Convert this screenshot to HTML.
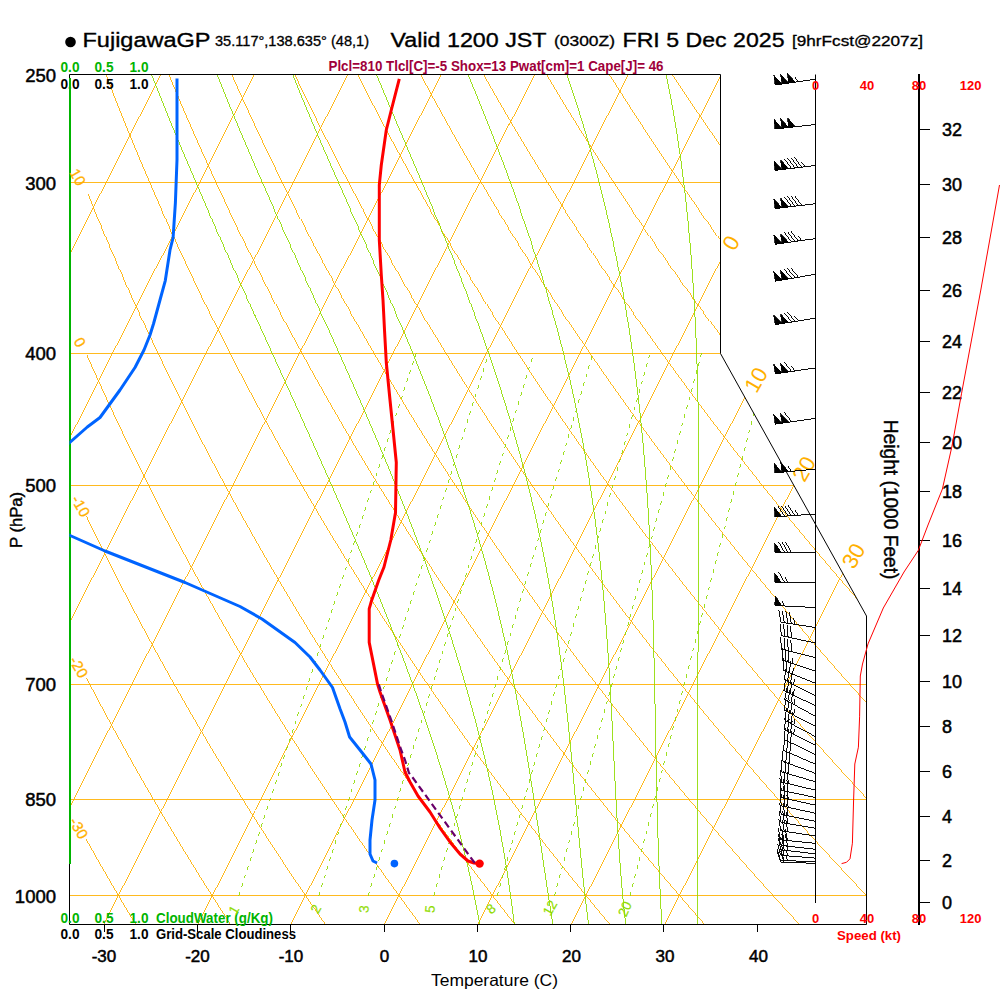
<!DOCTYPE html><html><head><meta charset="utf-8"><style>html,body{margin:0;padding:0;background:#fff;}svg{display:block;}</style></head><body><svg width="1000" height="1000" viewBox="0 0 1000 1000" font-family='"Liberation Sans", sans-serif'><defs><clipPath id="pc"><path d="M69.5 74.5 L720.5 74.5 L720.5 353.5 L866.5 616.0 L866.5 924.5 L69.5 924.5 Z"/></clipPath></defs>
<g clip-path="url(#pc)" fill="none" stroke-width="0.88" shape-rendering="crispEdges">
<line x1="69.5" y1="182.50" x2="866.5" y2="182.50" stroke="#ffb000"/>
<line x1="69.5" y1="353.50" x2="866.5" y2="353.50" stroke="#ffb000"/>
<line x1="69.5" y1="485.50" x2="866.5" y2="485.50" stroke="#ffb000"/>
<line x1="69.5" y1="684.50" x2="866.5" y2="684.50" stroke="#ffb000"/>
<line x1="69.5" y1="799.50" x2="866.5" y2="799.50" stroke="#ffb000"/>
<line x1="69.5" y1="895.50" x2="866.5" y2="895.50" stroke="#ffb000"/>
<line x1="-644.25" y1="924.50" x2="-213.73" y2="74.50" stroke="#ffb000"/>
<line x1="-550.75" y1="924.50" x2="-120.23" y2="74.50" stroke="#ffb000"/>
<line x1="-457.25" y1="924.50" x2="-26.73" y2="74.50" stroke="#ffb000"/>
<line x1="-363.75" y1="924.50" x2="66.77" y2="74.50" stroke="#ffb000"/>
<line x1="-270.25" y1="924.50" x2="160.27" y2="74.50" stroke="#ffb000"/>
<line x1="-176.75" y1="924.50" x2="253.77" y2="74.50" stroke="#ffb000"/>
<line x1="-83.25" y1="924.50" x2="347.27" y2="74.50" stroke="#ffb000"/>
<line x1="10.25" y1="924.50" x2="440.77" y2="74.50" stroke="#ffb000"/>
<line x1="103.75" y1="924.50" x2="534.27" y2="74.50" stroke="#ffb000"/>
<line x1="197.25" y1="924.50" x2="627.77" y2="74.50" stroke="#ffb000"/>
<line x1="290.75" y1="924.50" x2="721.27" y2="74.50" stroke="#ffb000"/>
<line x1="384.25" y1="924.50" x2="814.77" y2="74.50" stroke="#ffb000"/>
<line x1="477.75" y1="924.50" x2="908.27" y2="74.50" stroke="#ffb000"/>
<line x1="571.25" y1="924.50" x2="1001.77" y2="74.50" stroke="#ffb000"/>
<line x1="664.75" y1="924.50" x2="1095.27" y2="74.50" stroke="#ffb000"/>
<path d="M-397.64 74.54 L-396.44 83.04 L-395.21 91.53 L-393.96 100.03 L-392.69 108.53 L-391.40 117.03 L-390.08 125.53 L-388.74 134.03 L-387.38 142.53 L-385.99 151.02 L-384.58 159.52 L-383.14 168.02 L-381.69 176.52 L-380.21 185.02 L-378.70 193.52 L-377.17 202.02 L-375.62 210.51 L-374.04 219.01 L-372.44 227.51 L-370.82 236.01 L-369.17 244.51 L-367.50 253.01 L-365.80 261.51 L-364.08 270.00 L-362.33 278.50 L-360.56 287.00 L-358.76 295.50 L-356.94 304.00 L-355.09 312.50 L-353.21 321.00 L-351.32 329.49 L-349.39 337.99 L-347.44 346.49 L-345.47 354.99 L-343.47 363.49 L-341.44 371.99 L-339.39 380.49 L-337.31 388.98 L-335.21 397.48 L-333.07 405.98 L-330.92 414.48 L-328.73 422.98 L-326.52 431.48 L-324.28 439.98 L-322.02 448.47 L-319.73 456.97 L-317.41 465.47 L-315.06 473.97 L-312.69 482.47 L-310.29 490.97 L-307.86 499.47 L-305.41 507.96 L-302.92 516.46 L-300.41 524.96 L-297.87 533.46 L-295.31 541.96 L-292.71 550.46 L-290.09 558.96 L-287.43 567.45 L-284.75 575.95 L-282.04 584.45 L-279.31 592.95 L-276.54 601.45 L-273.74 609.95 L-270.92 618.44 L-268.06 626.94 L-265.18 635.44 L-262.27 643.94 L-259.32 652.44 L-256.35 660.94 L-253.35 669.44 L-250.31 677.93 L-247.25 686.43 L-244.16 694.93 L-241.03 703.43 L-237.88 711.93 L-234.69 720.43 L-231.48 728.93 L-228.23 737.42 L-224.96 745.92 L-221.65 754.42 L-218.31 762.92 L-214.94 771.42 L-211.53 779.92 L-208.10 788.42 L-204.63 796.91 L-201.14 805.41 L-197.61 813.91 L-194.04 822.41 L-190.45 830.91 L-186.82 839.41 L-183.16 847.91 L-179.47 856.40 L-175.75 864.90 L-171.99 873.40 L-168.20 881.90 L-164.37 890.40 L-160.52 898.90 L-156.62 907.40 L-152.70 915.89 L-148.74 924.39" stroke="#ffb000"/>
<path d="M-334.70 74.54 L-333.24 83.04 L-331.75 91.53 L-330.24 100.03 L-328.71 108.53 L-327.15 117.03 L-325.57 125.53 L-323.97 134.03 L-322.34 142.53 L-320.69 151.02 L-319.01 159.52 L-317.30 168.02 L-315.58 176.52 L-313.82 185.02 L-312.05 193.52 L-310.24 202.02 L-308.42 210.51 L-306.56 219.01 L-304.69 227.51 L-302.78 236.01 L-300.86 244.51 L-298.90 253.01 L-296.92 261.51 L-294.92 270.00 L-292.88 278.50 L-290.83 287.00 L-288.74 295.50 L-286.63 304.00 L-284.50 312.50 L-282.33 321.00 L-280.15 329.49 L-277.93 337.99 L-275.69 346.49 L-273.42 354.99 L-271.12 363.49 L-268.80 371.99 L-266.45 380.49 L-264.07 388.98 L-261.66 397.48 L-259.23 405.98 L-256.77 414.48 L-254.28 422.98 L-251.76 431.48 L-249.22 439.98 L-246.65 448.47 L-244.05 456.97 L-241.42 465.47 L-238.76 473.97 L-236.07 482.47 L-233.36 490.97 L-230.61 499.47 L-227.84 507.96 L-225.04 516.46 L-222.21 524.96 L-219.35 533.46 L-216.46 541.96 L-213.54 550.46 L-210.59 558.96 L-207.61 567.45 L-204.60 575.95 L-201.56 584.45 L-198.50 592.95 L-195.40 601.45 L-192.27 609.95 L-189.11 618.44 L-185.92 626.94 L-182.70 635.44 L-179.44 643.94 L-176.16 652.44 L-172.85 660.94 L-169.50 669.44 L-166.12 677.93 L-162.72 686.43 L-159.27 694.93 L-155.80 703.43 L-152.30 711.93 L-148.76 720.43 L-145.19 728.93 L-141.59 737.42 L-137.96 745.92 L-134.30 754.42 L-130.60 762.92 L-126.87 771.42 L-123.10 779.92 L-119.30 788.42 L-115.47 796.91 L-111.61 805.41 L-107.71 813.91 L-103.78 822.41 L-99.82 830.91 L-95.82 839.41 L-91.78 847.91 L-87.72 856.40 L-83.62 864.90 L-79.48 873.40 L-75.31 881.90 L-71.10 890.40 L-66.86 898.90 L-62.59 907.40 L-58.28 915.89 L-53.93 924.39" stroke="#ffb000"/>
<path d="M-271.76 74.54 L-270.04 83.04 L-268.30 91.53 L-266.53 100.03 L-264.73 108.53 L-262.91 117.03 L-261.07 125.53 L-259.20 134.03 L-257.30 142.53 L-255.38 151.02 L-253.43 159.52 L-251.46 168.02 L-249.46 176.52 L-247.44 185.02 L-245.39 193.52 L-243.32 202.02 L-241.21 210.51 L-239.09 219.01 L-236.93 227.51 L-234.75 236.01 L-232.54 244.51 L-230.31 253.01 L-228.05 261.51 L-225.76 270.00 L-223.44 278.50 L-221.10 287.00 L-218.73 295.50 L-216.33 304.00 L-213.91 312.50 L-211.45 321.00 L-208.97 329.49 L-206.47 337.99 L-203.93 346.49 L-201.37 354.99 L-198.77 363.49 L-196.15 371.99 L-193.50 380.49 L-190.83 388.98 L-188.12 397.48 L-185.38 405.98 L-182.62 414.48 L-179.83 422.98 L-177.01 431.48 L-174.15 439.98 L-171.27 448.47 L-168.36 456.97 L-165.42 465.47 L-162.45 473.97 L-159.45 482.47 L-156.42 490.97 L-153.36 499.47 L-150.27 507.96 L-147.15 516.46 L-144.00 524.96 L-140.82 533.46 L-137.61 541.96 L-134.37 550.46 L-131.09 558.96 L-127.79 567.45 L-124.45 575.95 L-121.09 584.45 L-117.69 592.95 L-114.26 601.45 L-110.79 609.95 L-107.30 618.44 L-103.77 626.94 L-100.21 635.44 L-96.62 643.94 L-93.00 652.44 L-89.34 660.94 L-85.66 669.44 L-81.93 677.93 L-78.18 686.43 L-74.39 694.93 L-70.57 703.43 L-66.72 711.93 L-62.83 720.43 L-58.91 728.93 L-54.95 737.42 L-50.97 745.92 L-46.94 754.42 L-42.89 762.92 L-38.80 771.42 L-34.67 779.92 L-30.51 788.42 L-26.31 796.91 L-22.08 805.41 L-17.82 813.91 L-13.52 822.41 L-9.18 830.91 L-4.81 839.41 L-0.41 847.91 L4.04 856.40 L8.52 864.90 L13.03 873.40 L17.58 881.90 L22.17 890.40 L26.79 898.90 L31.45 907.40 L36.15 915.89 L40.88 924.39" stroke="#ffb000"/>
<path d="M86.19 839.41 L90.97 847.91 L95.79 856.40 L100.65 864.90 L105.54 873.40 L110.47 881.90 L115.44 890.40 L120.44 898.90 L125.49 907.40 L130.57 915.89 L135.69 924.39" stroke="#ffb000"/>
<path d="M86.45 677.93 L90.89 686.43 L95.37 694.93 L99.89 703.43 L104.44 711.93 L109.03 720.43 L113.66 728.93 L118.32 737.42 L123.02 745.92 L127.76 754.42 L132.54 762.92 L137.35 771.42 L142.20 779.92 L147.08 788.42 L152.01 796.91 L156.97 805.41 L161.97 813.91 L167.01 822.41 L172.08 830.91 L177.20 839.41 L182.35 847.91 L187.55 856.40 L192.78 864.90 L198.05 873.40 L203.36 881.90 L208.71 890.40 L214.10 898.90 L219.53 907.40 L225.00 915.89 L230.50 924.39" stroke="#ffb000"/>
<path d="M86.50 516.46 L90.61 524.96 L94.75 533.46 L98.93 541.96 L103.15 550.46 L107.40 558.96 L111.68 567.45 L116.00 575.95 L120.35 584.45 L124.74 592.95 L129.17 601.45 L133.63 609.95 L138.13 618.44 L142.66 626.94 L147.23 635.44 L151.84 643.94 L156.48 652.44 L161.16 660.94 L165.88 669.44 L170.64 677.93 L175.43 686.43 L180.26 694.93 L185.12 703.43 L190.02 711.93 L194.97 720.43 L199.95 728.93 L204.96 737.42 L210.02 745.92 L215.11 754.42 L220.25 762.92 L225.42 771.42 L230.63 779.92 L235.88 788.42 L241.17 796.91 L246.49 805.41 L251.86 813.91 L257.27 822.41 L262.72 830.91 L268.20 839.41 L273.73 847.91 L279.30 856.40 L284.91 864.90 L290.56 873.40 L296.25 881.90 L301.98 890.40 L307.75 898.90 L313.56 907.40 L319.42 915.89 L325.32 924.39" stroke="#ffb000"/>
<path d="M86.84 354.99 L90.62 363.49 L94.42 371.99 L98.27 380.49 L102.14 388.98 L106.05 397.48 L109.99 405.98 L113.97 414.48 L117.98 422.98 L122.03 431.48 L126.11 439.98 L130.22 448.47 L134.37 456.97 L138.55 465.47 L142.77 473.97 L147.02 482.47 L151.31 490.97 L155.63 499.47 L159.99 507.96 L164.38 516.46 L168.81 524.96 L173.28 533.46 L177.78 541.96 L182.32 550.46 L186.89 558.96 L191.50 567.45 L196.15 575.95 L200.83 584.45 L205.55 592.95 L210.31 601.45 L215.11 609.95 L219.94 618.44 L224.81 626.94 L229.72 635.44 L234.66 643.94 L239.65 652.44 L244.67 660.94 L249.73 669.44 L254.83 677.93 L259.96 686.43 L265.14 694.93 L270.35 703.43 L275.61 711.93 L280.90 720.43 L286.23 728.93 L291.60 737.42 L297.01 745.92 L302.47 754.42 L307.96 762.92 L313.49 771.42 L319.06 779.92 L324.67 788.42 L330.33 796.91 L336.02 805.41 L341.76 813.91 L347.53 822.41 L353.35 830.91 L359.21 839.41 L365.11 847.91 L371.05 856.40 L377.04 864.90 L383.07 873.40 L389.14 881.90 L395.25 890.40 L401.40 898.90 L407.60 907.40 L413.84 915.89 L420.13 924.39" stroke="#ffb000"/>
<path d="M87.89 193.52 L91.33 202.02 L94.81 210.51 L98.31 219.01 L101.85 227.51 L105.43 236.01 L109.03 244.51 L112.67 253.01 L116.34 261.51 L120.04 270.00 L123.77 278.50 L127.54 287.00 L131.34 295.50 L135.18 304.00 L139.05 312.50 L142.95 321.00 L146.88 329.49 L150.85 337.99 L154.85 346.49 L158.89 354.99 L162.96 363.49 L167.07 371.99 L171.21 380.49 L175.38 388.98 L179.59 397.48 L183.84 405.98 L188.12 414.48 L192.43 422.98 L196.78 431.48 L201.17 439.98 L205.59 448.47 L210.05 456.97 L214.54 465.47 L219.07 473.97 L223.64 482.47 L228.24 490.97 L232.88 499.47 L237.56 507.96 L242.27 516.46 L247.02 524.96 L251.80 533.46 L256.63 541.96 L261.49 550.46 L266.39 558.96 L271.33 567.45 L276.30 575.95 L281.31 584.45 L286.36 592.95 L291.45 601.45 L296.58 609.95 L301.75 618.44 L306.95 626.94 L312.20 635.44 L317.48 643.94 L322.81 652.44 L328.17 660.94 L333.57 669.44 L339.01 677.93 L344.50 686.43 L350.02 694.93 L355.58 703.43 L361.19 711.93 L366.83 720.43 L372.52 728.93 L378.24 737.42 L384.01 745.92 L389.82 754.42 L395.67 762.92 L401.56 771.42 L407.49 779.92 L413.47 788.42 L419.49 796.91 L425.55 805.41 L431.65 813.91 L437.80 822.41 L443.98 830.91 L450.22 839.41 L456.49 847.91 L462.81 856.40 L469.17 864.90 L475.58 873.40 L482.03 881.90 L488.52 890.40 L495.06 898.90 L501.64 907.40 L508.27 915.89 L514.94 924.39" stroke="#ffb000"/>
<path d="M105.88 74.54 L109.15 83.04 L112.45 91.53 L115.78 100.03 L119.14 108.53 L122.54 117.03 L125.97 125.53 L129.43 134.03 L132.92 142.53 L136.44 151.02 L140.00 159.52 L143.58 168.02 L147.20 176.52 L150.86 185.02 L154.54 193.52 L158.26 202.02 L162.01 210.51 L165.79 219.01 L169.61 227.51 L173.46 236.01 L177.34 244.51 L181.26 253.01 L185.21 261.51 L189.20 270.00 L193.22 278.50 L197.27 287.00 L201.36 295.50 L205.48 304.00 L209.64 312.50 L213.83 321.00 L218.05 329.49 L222.31 337.99 L226.61 346.49 L230.94 354.99 L235.31 363.49 L239.71 371.99 L244.15 380.49 L248.63 388.98 L253.14 397.48 L257.68 405.98 L262.27 414.48 L266.89 422.98 L271.54 431.48 L276.24 439.98 L280.97 448.47 L285.73 456.97 L290.54 465.47 L295.38 473.97 L300.26 482.47 L305.17 490.97 L310.13 499.47 L315.12 507.96 L320.15 516.46 L325.22 524.96 L330.33 533.46 L335.48 541.96 L340.66 550.46 L345.89 558.96 L351.15 567.45 L356.45 575.95 L361.79 584.45 L367.17 592.95 L372.60 601.45 L378.06 609.95 L383.56 618.44 L389.10 626.94 L394.68 635.44 L400.30 643.94 L405.97 652.44 L411.67 660.94 L417.42 669.44 L423.20 677.93 L429.03 686.43 L434.90 694.93 L440.81 703.43 L446.77 711.93 L452.76 720.43 L458.80 728.93 L464.88 737.42 L471.00 745.92 L477.17 754.42 L483.38 762.92 L489.63 771.42 L495.93 779.92 L502.26 788.42 L508.65 796.91 L515.07 805.41 L521.54 813.91 L528.06 822.41 L534.62 830.91 L541.22 839.41 L547.87 847.91 L554.56 856.40 L561.30 864.90 L568.08 873.40 L574.91 881.90 L581.79 890.40 L588.71 898.90 L595.68 907.40 L602.69 915.89 L609.75 924.39" stroke="#ffb000"/>
<path d="M168.82 74.54 L172.34 83.04 L175.91 91.53 L179.50 100.03 L183.12 108.53 L186.78 117.03 L190.47 125.53 L194.20 134.03 L197.95 142.53 L201.74 151.02 L205.57 159.52 L209.42 168.02 L213.31 176.52 L217.24 185.02 L221.20 193.52 L225.19 202.02 L229.21 210.51 L233.27 219.01 L237.37 227.51 L241.49 236.01 L245.66 244.51 L249.86 253.01 L254.09 261.51 L258.36 270.00 L262.66 278.50 L267.00 287.00 L271.37 295.50 L275.78 304.00 L280.23 312.50 L284.71 321.00 L289.22 329.49 L293.78 337.99 L298.37 346.49 L302.99 354.99 L307.66 363.49 L312.36 371.99 L317.09 380.49 L321.87 388.98 L326.68 397.48 L331.53 405.98 L336.41 414.48 L341.34 422.98 L346.30 431.48 L351.30 439.98 L356.34 448.47 L361.41 456.97 L366.53 465.47 L371.68 473.97 L376.88 482.47 L382.11 490.97 L387.38 499.47 L392.69 507.96 L398.04 516.46 L403.43 524.96 L408.85 533.46 L414.32 541.96 L419.83 550.46 L425.38 558.96 L430.97 567.45 L436.60 575.95 L442.27 584.45 L447.98 592.95 L453.74 601.45 L459.53 609.95 L465.37 618.44 L471.25 626.94 L477.16 635.44 L483.13 643.94 L489.13 652.44 L495.18 660.94 L501.26 669.44 L507.39 677.93 L513.57 686.43 L519.78 694.93 L526.04 703.43 L532.35 711.93 L538.70 720.43 L545.09 728.93 L551.52 737.42 L558.00 745.92 L564.52 754.42 L571.09 762.92 L577.70 771.42 L584.36 779.92 L591.06 788.42 L597.81 796.91 L604.60 805.41 L611.44 813.91 L618.32 822.41 L625.25 830.91 L632.23 839.41 L639.25 847.91 L646.32 856.40 L653.43 864.90 L660.59 873.40 L667.80 881.90 L675.06 890.40 L682.36 898.90 L689.72 907.40 L697.11 915.89 L704.56 924.39" stroke="#ffb000"/>
<path d="M231.75 74.54 L235.54 83.04 L239.36 91.53 L243.22 100.03 L247.10 108.53 L251.03 117.03 L254.98 125.53 L258.97 134.03 L262.99 142.53 L267.05 151.02 L271.14 159.52 L275.27 168.02 L279.43 176.52 L283.62 185.02 L287.85 193.52 L292.12 202.02 L296.42 210.51 L300.75 219.01 L305.12 227.51 L309.53 236.01 L313.97 244.51 L318.45 253.01 L322.96 261.51 L327.52 270.00 L332.10 278.50 L336.73 287.00 L341.39 295.50 L346.08 304.00 L350.82 312.50 L355.59 321.00 L360.40 329.49 L365.24 337.99 L370.13 346.49 L375.05 354.99 L380.01 363.49 L385.00 371.99 L390.04 380.49 L395.11 388.98 L400.22 397.48 L405.37 405.98 L410.56 414.48 L415.79 422.98 L421.06 431.48 L426.36 439.98 L431.71 448.47 L437.10 456.97 L442.52 465.47 L447.99 473.97 L453.49 482.47 L459.04 490.97 L464.63 499.47 L470.25 507.96 L475.92 516.46 L481.63 524.96 L487.38 533.46 L493.17 541.96 L499.00 550.46 L504.88 558.96 L510.79 567.45 L516.75 575.95 L522.75 584.45 L528.79 592.95 L534.88 601.45 L541.01 609.95 L547.18 618.44 L553.39 626.94 L559.65 635.44 L565.95 643.94 L572.29 652.44 L578.68 660.94 L585.11 669.44 L591.58 677.93 L598.10 686.43 L604.67 694.93 L611.28 703.43 L617.93 711.93 L624.63 720.43 L631.37 728.93 L638.16 737.42 L644.99 745.92 L651.87 754.42 L658.80 762.92 L665.77 771.42 L672.79 779.92 L679.86 788.42 L686.97 796.91 L694.13 805.41 L701.33 813.91 L708.58 822.41 L715.88 830.91 L723.23 839.41 L730.63 847.91 L738.07 856.40 L745.56 864.90 L753.10 873.40 L760.69 881.90 L768.33 890.40 L776.02 898.90 L783.75 907.40 L791.54 915.89 L799.37 924.39" stroke="#ffb000"/>
<path d="M294.69 74.54 L298.74 83.04 L302.82 91.53 L306.93 100.03 L311.08 108.53 L315.27 117.03 L319.49 125.53 L323.74 134.03 L328.03 142.53 L332.35 151.02 L336.71 159.52 L341.11 168.02 L345.54 176.52 L350.00 185.02 L354.51 193.52 L359.05 202.02 L363.62 210.51 L368.23 219.01 L372.88 227.51 L377.56 236.01 L382.29 244.51 L387.05 253.01 L391.84 261.51 L396.67 270.00 L401.55 278.50 L406.45 287.00 L411.40 295.50 L416.38 304.00 L421.41 312.50 L426.47 321.00 L431.57 329.49 L436.71 337.99 L441.88 346.49 L447.10 354.99 L452.35 363.49 L457.65 371.99 L462.98 380.49 L468.35 388.98 L473.76 397.48 L479.22 405.98 L484.71 414.48 L490.24 422.98 L495.82 431.48 L501.43 439.98 L507.08 448.47 L512.78 456.97 L518.52 465.47 L524.29 473.97 L530.11 482.47 L535.97 490.97 L541.88 499.47 L547.82 507.96 L553.81 516.46 L559.83 524.96 L565.91 533.46 L572.02 541.96 L578.18 550.46 L584.37 558.96 L590.62 567.45 L596.90 575.95 L603.23 584.45 L609.60 592.95 L616.02 601.45 L622.48 609.95 L628.99 618.44 L635.54 626.94 L642.13 635.44 L648.77 643.94 L655.45 652.44 L662.18 660.94 L668.95 669.44 L675.77 677.93 L682.64 686.43 L689.55 694.93 L696.51 703.43 L703.51 711.93 L710.56 720.43 L717.66 728.93 L724.80 737.42 L731.99 745.92 L739.23 754.42 L746.51 762.92 L753.84 771.42 L761.22 779.92 L768.65 788.42 L776.13 796.91 L783.65 805.41 L791.22 813.91 L798.85 822.41 L806.52 830.91 L814.24 839.41 L822.01 847.91 L829.83 856.40 L837.69 864.90 L845.61 873.40 L853.58 881.90 L861.60 890.40 L869.67 898.90 L877.79 907.40 L885.96 915.89 L894.19 924.39" stroke="#ffb000"/>
<path d="M357.63 74.54 L361.94 83.04 L366.28 91.53 L370.65 100.03 L375.06 108.53 L379.51 117.03 L383.99 125.53 L388.51 134.03 L393.06 142.53 L397.66 151.02 L402.28 159.52 L406.95 168.02 L411.65 176.52 L416.39 185.02 L421.16 193.52 L425.97 202.02 L430.82 210.51 L435.71 219.01 L440.64 227.51 L445.60 236.01 L450.60 244.51 L455.64 253.01 L460.72 261.51 L465.83 270.00 L470.99 278.50 L476.18 287.00 L481.41 295.50 L486.69 304.00 L492.00 312.50 L497.35 321.00 L502.74 329.49 L508.17 337.99 L513.64 346.49 L519.15 354.99 L524.70 363.49 L530.29 371.99 L535.92 380.49 L541.59 388.98 L547.31 397.48 L553.06 405.98 L558.86 414.48 L564.70 422.98 L570.57 431.48 L576.49 439.98 L582.46 448.47 L588.46 456.97 L594.51 465.47 L600.60 473.97 L606.73 482.47 L612.91 490.97 L619.12 499.47 L625.39 507.96 L631.69 516.46 L638.04 524.96 L644.43 533.46 L650.87 541.96 L657.35 550.46 L663.87 558.96 L670.44 567.45 L677.05 575.95 L683.71 584.45 L690.41 592.95 L697.16 601.45 L703.96 609.95 L710.80 618.44 L717.68 626.94 L724.61 635.44 L731.59 643.94 L738.61 652.44 L745.68 660.94 L752.80 669.44 L759.96 677.93 L767.17 686.43 L774.43 694.93 L781.74 703.43 L789.09 711.93 L796.49 720.43 L803.94 728.93 L811.44 737.42 L818.98 745.92 L826.58 754.42 L834.22 762.92 L841.91 771.42 L849.66 779.92 L857.45 788.42 L865.29 796.91 L873.18 805.41 L881.12 813.91 L889.11 822.41 L897.15 830.91 L905.24 839.41 L913.39 847.91 L921.58 856.40 L929.82 864.90 L938.12 873.40 L946.47 881.90 L954.87 890.40 L963.32 898.90 L971.83 907.40 L980.39 915.89 L989.00 924.39" stroke="#ffb000"/>
<path d="M420.57 74.54 L425.14 83.04 L429.73 91.53 L434.37 100.03 L439.04 108.53 L443.75 117.03 L448.50 125.53 L453.28 134.03 L458.10 142.53 L462.96 151.02 L467.86 159.52 L472.79 168.02 L477.76 176.52 L482.77 185.02 L487.82 193.52 L492.90 202.02 L498.03 210.51 L503.19 219.01 L508.39 227.51 L513.63 236.01 L518.91 244.51 L524.23 253.01 L529.59 261.51 L534.99 270.00 L540.43 278.50 L545.91 287.00 L551.43 295.50 L556.99 304.00 L562.59 312.50 L568.23 321.00 L573.91 329.49 L579.63 337.99 L585.40 346.49 L591.20 354.99 L597.05 363.49 L602.93 371.99 L608.86 380.49 L614.84 388.98 L620.85 397.48 L626.91 405.98 L633.01 414.48 L639.15 422.98 L645.33 431.48 L651.56 439.98 L657.83 448.47 L664.14 456.97 L670.50 465.47 L676.90 473.97 L683.35 482.47 L689.84 490.97 L696.37 499.47 L702.95 507.96 L709.57 516.46 L716.24 524.96 L722.96 533.46 L729.71 541.96 L736.52 550.46 L743.37 558.96 L750.26 567.45 L757.20 575.95 L764.19 584.45 L771.22 592.95 L778.30 601.45 L785.43 609.95 L792.61 618.44 L799.83 626.94 L807.10 635.44 L814.41 643.94 L821.77 652.44 L829.19 660.94 L836.65 669.44 L844.15 677.93 L851.71 686.43 L859.31 694.93 L866.97 703.43 L874.67 711.93 L882.42 720.43 L890.23 728.93 L898.08 737.42 L905.98 745.92 L913.93 754.42 L921.93 762.92 L929.98 771.42 L938.09 779.92 L946.24 788.42 L954.45 796.91 L962.70 805.41 L971.01 813.91 L979.37 822.41 L987.78 830.91 L996.25 839.41 L1004.76 847.91 L1013.33 856.40 L1021.96 864.90 L1030.63 873.40 L1039.36 881.90 L1048.14 890.40 L1056.98 898.90 L1065.87 907.40 L1074.81 915.89 L1083.81 924.39" stroke="#ffb000"/>
<path d="M483.51 74.54 L488.33 83.04 L493.19 91.53 L498.09 100.03 L503.02 108.53 L507.99 117.03 L513.00 125.53 L518.05 134.03 L523.14 142.53 L528.26 151.02 L533.43 159.52 L538.63 168.02 L543.87 176.52 L549.15 185.02 L554.47 193.52 L559.83 202.02 L565.23 210.51 L570.67 219.01 L576.15 227.51 L581.67 236.01 L587.23 244.51 L592.83 253.01 L598.47 261.51 L604.15 270.00 L609.87 278.50 L615.64 287.00 L621.44 295.50 L627.29 304.00 L633.18 312.50 L639.11 321.00 L645.08 329.49 L651.10 337.99 L657.15 346.49 L663.25 354.99 L669.39 363.49 L675.58 371.99 L681.81 380.49 L688.08 388.98 L694.39 397.48 L700.75 405.98 L707.15 414.48 L713.60 422.98 L720.09 431.48 L726.62 439.98 L733.20 448.47 L739.83 456.97 L746.50 465.47 L753.21 473.97 L759.97 482.47 L766.77 490.97 L773.62 499.47 L780.52 507.96 L787.46 516.46 L794.45 524.96 L801.48 533.46 L808.56 541.96 L815.69 550.46 L822.86 558.96 L830.09 567.45 L837.35 575.95 L844.67 584.45 L852.03 592.95 L859.45 601.45 L866.91 609.95 L874.42 618.44 L881.97 626.94 L889.58 635.44 L897.23 643.94 L904.94 652.44 L912.69 660.94 L920.49 669.44 L928.34 677.93 L936.25 686.43 L944.20 694.93 L952.20 703.43 L960.25 711.93 L968.36 720.43 L976.51 728.93 L984.72 737.42 L992.97 745.92 L1001.28 754.42 L1009.64 762.92 L1018.06 771.42 L1026.52 779.92 L1035.04 788.42 L1043.61 796.91 L1052.23 805.41 L1060.91 813.91 L1069.63 822.41 L1078.42 830.91 L1087.25 839.41 L1096.14 847.91 L1105.09 856.40 L1114.09 864.90 L1123.14 873.40 L1132.25 881.90 L1141.41 890.40 L1150.63 898.90 L1159.90 907.40 L1169.23 915.89 L1178.62 924.39" stroke="#ffb000"/>
<path d="M546.45 74.54 L551.53 83.04 L556.65 91.53 L561.81 100.03 L567.00 108.53 L572.24 117.03 L577.51 125.53 L582.82 134.03 L588.17 142.53 L593.57 151.02 L599.00 159.52 L604.47 168.02 L609.98 176.52 L615.53 185.02 L621.13 193.52 L626.76 202.02 L632.44 210.51 L638.15 219.01 L643.91 227.51 L649.70 236.01 L655.54 244.51 L661.42 253.01 L667.35 261.51 L673.31 270.00 L679.32 278.50 L685.37 287.00 L691.46 295.50 L697.59 304.00 L703.77 312.50 L709.99 321.00 L716.25 329.49 L722.56 337.99 L728.91 346.49 L735.30 354.99 L741.74 363.49 L748.22 371.99 L754.75 380.49 L761.32 388.98 L767.94 397.48 L774.60 405.98 L781.30 414.48 L788.05 422.98 L794.85 431.48 L801.69 439.98 L808.58 448.47 L815.51 456.97 L822.49 465.47 L829.51 473.97 L836.59 482.47 L843.71 490.97 L850.87 499.47 L858.08 507.96 L865.34 516.46 L872.65 524.96 L880.01 533.46 L887.41 541.96 L894.86 550.46 L902.36 558.96 L909.91 567.45 L917.50 575.95 L925.15 584.45 L932.84 592.95 L940.59 601.45 L948.38 609.95 L956.22 618.44 L964.12 626.94 L972.06 635.44 L980.05 643.94 L988.10 652.44 L996.19 660.94 L1004.34 669.44 L1012.53 677.93 L1020.78 686.43 L1029.08 694.93 L1037.43 703.43 L1045.83 711.93 L1054.29 720.43 L1062.80 728.93 L1071.36 737.42 L1079.97 745.92 L1088.63 754.42 L1097.35 762.92 L1106.13 771.42 L1114.95 779.92 L1123.83 788.42 L1132.77 796.91 L1141.76 805.41 L1150.80 813.91 L1159.90 822.41 L1169.05 830.91 L1178.26 839.41 L1187.52 847.91 L1196.84 856.40 L1206.22 864.90 L1215.65 873.40 L1225.14 881.90 L1234.68 890.40 L1244.28 898.90 L1253.94 907.40 L1263.66 915.89 L1273.43 924.39" stroke="#ffb000"/>
<path d="M609.39 74.54 L614.73 83.04 L620.11 91.53 L625.52 100.03 L630.98 108.53 L636.48 117.03 L642.02 125.53 L647.59 134.03 L653.21 142.53 L658.87 151.02 L664.57 159.52 L670.31 168.02 L676.09 176.52 L681.92 185.02 L687.78 193.52 L693.69 202.02 L699.64 210.51 L705.63 219.01 L711.66 227.51 L717.74 236.01 L723.86 244.51 L730.02 253.01 L736.22 261.51 L742.47 270.00 L748.76 278.50 L755.09 287.00 L761.47 295.50 L767.89 304.00 L774.36 312.50 L780.87 321.00 L787.42 329.49 L794.02 337.99 L800.67 346.49 L807.36 354.99 L814.09 363.49 L820.87 371.99 L827.69 380.49 L834.56 388.98 L841.48 397.48 L848.44 405.98 L855.45 414.48 L862.50 422.98 L869.61 431.48 L876.75 439.98 L883.95 448.47 L891.19 456.97 L898.48 465.47 L905.82 473.97 L913.20 482.47 L920.64 490.97 L928.12 499.47 L935.65 507.96 L943.23 516.46 L950.86 524.96 L958.53 533.46 L966.26 541.96 L974.03 550.46 L981.86 558.96 L989.73 567.45 L997.66 575.95 L1005.63 584.45 L1013.65 592.95 L1021.73 601.45 L1029.86 609.95 L1038.03 618.44 L1046.26 626.94 L1054.54 635.44 L1062.87 643.94 L1071.26 652.44 L1079.69 660.94 L1088.18 669.44 L1096.72 677.93 L1105.32 686.43 L1113.96 694.93 L1122.66 703.43 L1131.41 711.93 L1140.22 720.43 L1149.08 728.93 L1158.00 737.42 L1166.96 745.92 L1175.99 754.42 L1185.06 762.92 L1194.20 771.42 L1203.39 779.92 L1212.63 788.42 L1221.93 796.91 L1231.28 805.41 L1240.69 813.91 L1250.16 822.41 L1259.68 830.91 L1269.26 839.41 L1278.90 847.91 L1288.60 856.40 L1298.35 864.90 L1308.16 873.40 L1318.03 881.90 L1327.95 890.40 L1337.94 898.90 L1347.98 907.40 L1358.08 915.89 L1368.24 924.39" stroke="#ffb000"/>
<path d="M672.33 74.54 L677.93 83.04 L683.56 91.53 L689.24 100.03 L694.96 108.53 L700.72 117.03 L706.52 125.53 L712.36 134.03 L718.25 142.53 L724.17 151.02 L730.14 159.52 L736.15 168.02 L742.21 176.52 L748.30 185.02 L754.44 193.52 L760.62 202.02 L766.84 210.51 L773.11 219.01 L779.42 227.51 L785.77 236.01 L792.17 244.51 L798.61 253.01 L805.10 261.51 L811.63 270.00 L818.20 278.50 L824.82 287.00 L831.49 295.50 L838.20 304.00 L844.95 312.50 L851.75 321.00 L858.60 329.49 L865.49 337.99 L872.42 346.49 L879.41 354.99 L886.44 363.49 L893.51 371.99 L900.63 380.49 L907.80 388.98 L915.02 397.48 L922.29 405.98 L929.60 414.48 L936.96 422.98 L944.36 431.48 L951.82 439.98 L959.32 448.47 L966.87 456.97 L974.48 465.47 L982.12 473.97 L989.82 482.47 L997.57 490.97 L1005.37 499.47 L1013.22 507.96 L1021.11 516.46 L1029.06 524.96 L1037.06 533.46 L1045.11 541.96 L1053.20 550.46 L1061.35 558.96 L1069.55 567.45 L1077.81 575.95 L1086.11 584.45 L1094.46 592.95 L1102.87 601.45 L1111.33 609.95 L1119.84 618.44 L1128.41 626.94 L1137.03 635.44 L1145.70 643.94 L1154.42 652.44 L1163.20 660.94 L1172.03 669.44 L1180.91 677.93 L1189.85 686.43 L1198.84 694.93 L1207.89 703.43 L1217.00 711.93 L1226.15 720.43 L1235.37 728.93 L1244.63 737.42 L1253.96 745.92 L1263.34 754.42 L1272.78 762.92 L1282.27 771.42 L1291.82 779.92 L1301.42 788.42 L1311.09 796.91 L1320.81 805.41 L1330.59 813.91 L1340.42 822.41 L1350.32 830.91 L1360.27 839.41 L1370.28 847.91 L1380.35 856.40 L1390.48 864.90 L1400.67 873.40 L1410.92 881.90 L1421.22 890.40 L1431.59 898.90 L1442.02 907.40 L1452.51 915.89 L1463.05 924.39" stroke="#ffb000"/>
<path d="M735.27 74.54 L741.13 83.04 L747.02 91.53 L752.96 100.03 L758.94 108.53 L764.96 117.03 L771.03 125.53 L777.13 134.03 L783.29 142.53 L789.48 151.02 L795.71 159.52 L801.99 168.02 L808.32 176.52 L814.68 185.02 L821.09 193.52 L827.55 202.02 L834.05 210.51 L840.59 219.01 L847.18 227.51 L853.81 236.01 L860.49 244.51 L867.21 253.01 L873.98 261.51 L880.79 270.00 L887.65 278.50 L894.55 287.00 L901.50 295.50 L908.50 304.00 L915.54 312.50 L922.63 321.00 L929.77 329.49 L936.95 337.99 L944.18 346.49 L951.46 354.99 L958.78 363.49 L966.16 371.99 L973.58 380.49 L981.05 388.98 L988.56 397.48 L996.13 405.98 L1003.74 414.48 L1011.41 422.98 L1019.12 431.48 L1026.88 439.98 L1034.70 448.47 L1042.56 456.97 L1050.47 465.47 L1058.43 473.97 L1066.44 482.47 L1074.50 490.97 L1082.62 499.47 L1090.78 507.96 L1099.00 516.46 L1107.26 524.96 L1115.58 533.46 L1123.95 541.96 L1132.38 550.46 L1140.85 558.96 L1149.38 567.45 L1157.96 575.95 L1166.59 584.45 L1175.28 592.95 L1184.01 601.45 L1192.81 609.95 L1201.65 618.44 L1210.55 626.94 L1219.51 635.44 L1228.52 643.94 L1237.58 652.44 L1246.70 660.94 L1255.87 669.44 L1265.10 677.93 L1274.39 686.43 L1283.73 694.93 L1293.12 703.43 L1302.58 711.93 L1312.09 720.43 L1321.65 728.93 L1331.27 737.42 L1340.95 745.92 L1350.69 754.42 L1360.49 762.92 L1370.34 771.42 L1380.25 779.92 L1390.22 788.42 L1400.25 796.91 L1410.33 805.41 L1420.48 813.91 L1430.69 822.41 L1440.95 830.91 L1451.28 839.41 L1461.66 847.91 L1472.10 856.40 L1482.61 864.90 L1493.18 873.40 L1503.80 881.90 L1514.49 890.40 L1525.24 898.90 L1536.06 907.40 L1546.93 915.89 L1557.87 924.39" stroke="#ffb000"/>
<path d="M798.21 74.54 L804.32 83.04 L810.48 91.53 L816.68 100.03 L822.92 108.53 L829.20 117.03 L835.53 125.53 L841.91 134.03 L848.32 142.53 L854.78 151.02 L861.29 159.52 L867.83 168.02 L874.43 176.52 L881.07 185.02 L887.75 193.52 L894.48 202.02 L901.25 210.51 L908.07 219.01 L914.93 227.51 L921.84 236.01 L928.80 244.51 L935.80 253.01 L942.85 261.51 L949.95 270.00 L957.09 278.50 L964.28 287.00 L971.52 295.50 L978.80 304.00 L986.13 312.50 L993.51 321.00 L1000.94 329.49 L1008.41 337.99 L1015.94 346.49 L1023.51 354.99 L1031.13 363.49 L1038.80 371.99 L1046.52 380.49 L1054.29 388.98 L1062.11 397.48 L1069.97 405.98 L1077.89 414.48 L1085.86 422.98 L1093.88 431.48 L1101.95 439.98 L1110.07 448.47 L1118.24 456.97 L1126.46 465.47 L1134.74 473.97 L1143.06 482.47 L1151.44 490.97 L1159.87 499.47 L1168.35 507.96 L1176.88 516.46 L1185.47 524.96 L1194.11 533.46 L1202.80 541.96 L1211.55 550.46 L1220.35 558.96 L1229.20 567.45 L1238.11 575.95 L1247.07 584.45 L1256.09 592.95 L1265.16 601.45 L1274.28 609.95 L1283.46 618.44 L1292.70 626.94 L1301.99 635.44 L1311.34 643.94 L1320.74 652.44 L1330.20 660.94 L1339.72 669.44 L1349.29 677.93 L1358.92 686.43 L1368.61 694.93 L1378.35 703.43 L1388.16 711.93 L1398.02 720.43 L1407.94 728.93 L1417.91 737.42 L1427.95 745.92 L1438.04 754.42 L1448.20 762.92 L1458.41 771.42 L1468.68 779.92 L1479.02 788.42 L1489.41 796.91 L1499.86 805.41 L1510.37 813.91 L1520.95 822.41 L1531.58 830.91 L1542.28 839.41 L1553.04 847.91 L1563.86 856.40 L1574.74 864.90 L1585.69 873.40 L1596.69 881.90 L1607.76 890.40 L1618.90 898.90 L1630.09 907.40 L1641.35 915.89 L1652.68 924.39" stroke="#ffb000"/>
<path d="M861.15 74.54 L867.52 83.04 L873.94 91.53 L880.40 100.03 L886.90 108.53 L893.45 117.03 L900.04 125.53 L906.68 134.03 L913.36 142.53 L920.09 151.02 L926.86 159.52 L933.68 168.02 L940.54 176.52 L947.45 185.02 L954.40 193.52 L961.41 202.02 L968.45 210.51 L975.55 219.01 L982.69 227.51 L989.88 236.01 L997.11 244.51 L1004.40 253.01 L1011.73 261.51 L1019.11 270.00 L1026.53 278.50 L1034.01 287.00 L1041.53 295.50 L1049.10 304.00 L1056.72 312.50 L1064.39 321.00 L1072.11 329.49 L1079.88 337.99 L1087.69 346.49 L1095.56 354.99 L1103.48 363.49 L1111.45 371.99 L1119.46 380.49 L1127.53 388.98 L1135.65 397.48 L1143.82 405.98 L1152.04 414.48 L1160.31 422.98 L1168.64 431.48 L1177.01 439.98 L1185.44 448.47 L1193.92 456.97 L1202.45 465.47 L1211.04 473.97 L1219.68 482.47 L1228.37 490.97 L1237.12 499.47 L1245.91 507.96 L1254.77 516.46 L1263.67 524.96 L1272.63 533.46 L1281.65 541.96 L1290.72 550.46 L1299.84 558.96 L1309.02 567.45 L1318.26 575.95 L1327.55 584.45 L1336.90 592.95 L1346.30 601.45 L1355.76 609.95 L1365.27 618.44 L1374.84 626.94 L1384.47 635.44 L1394.16 643.94 L1403.90 652.44 L1413.70 660.94 L1423.56 669.44 L1433.48 677.93 L1443.46 686.43 L1453.49 694.93 L1463.59 703.43 L1473.74 711.93 L1483.95 720.43 L1494.22 728.93 L1504.55 737.42 L1514.94 745.92 L1525.40 754.42 L1535.91 762.92 L1546.48 771.42 L1557.12 779.92 L1567.81 788.42 L1578.57 796.91 L1589.39 805.41 L1600.27 813.91 L1611.21 822.41 L1622.22 830.91 L1633.29 839.41 L1644.42 847.91 L1655.61 856.40 L1666.87 864.90 L1678.20 873.40 L1689.58 881.90 L1701.03 890.40 L1712.55 898.90 L1724.13 907.40 L1735.78 915.89 L1747.49 924.39" stroke="#ffb000"/>
<path d="M924.09 74.54 L930.72 83.04 L937.39 91.53 L944.11 100.03 L950.88 108.53 L957.69 117.03 L964.55 125.53 L971.45 134.03 L978.40 142.53 L985.39 151.02 L992.43 159.52 L999.52 168.02 L1006.65 176.52 L1013.83 185.02 L1021.06 193.52 L1028.33 202.02 L1035.66 210.51 L1043.03 219.01 L1050.45 227.51 L1057.91 236.01 L1065.43 244.51 L1072.99 253.01 L1080.60 261.51 L1088.27 270.00 L1095.98 278.50 L1103.74 287.00 L1111.54 295.50 L1119.40 304.00 L1127.31 312.50 L1135.27 321.00 L1143.28 329.49 L1151.34 337.99 L1159.45 346.49 L1167.61 354.99 L1175.83 363.49 L1184.09 371.99 L1192.41 380.49 L1200.77 388.98 L1209.19 397.48 L1217.66 405.98 L1226.19 414.48 L1234.77 422.98 L1243.40 431.48 L1252.08 439.98 L1260.81 448.47 L1269.60 456.97 L1278.45 465.47 L1287.35 473.97 L1296.30 482.47 L1305.30 490.97 L1314.36 499.47 L1323.48 507.96 L1332.65 516.46 L1341.88 524.96 L1351.16 533.46 L1360.50 541.96 L1369.89 550.46 L1379.34 558.96 L1388.85 567.45 L1398.41 575.95 L1408.03 584.45 L1417.71 592.95 L1427.44 601.45 L1437.23 609.95 L1447.08 618.44 L1456.99 626.94 L1466.96 635.44 L1476.98 643.94 L1487.06 652.44 L1497.21 660.94 L1507.41 669.44 L1517.67 677.93 L1527.99 686.43 L1538.37 694.93 L1548.82 703.43 L1559.32 711.93 L1569.88 720.43 L1580.51 728.93 L1591.19 737.42 L1601.94 745.92 L1612.75 754.42 L1623.62 762.92 L1634.55 771.42 L1645.55 779.92 L1656.61 788.42 L1667.73 796.91 L1678.91 805.41 L1690.16 813.91 L1701.47 822.41 L1712.85 830.91 L1724.29 839.41 L1735.80 847.91 L1747.37 856.40 L1759.00 864.90 L1770.70 873.40 L1782.47 881.90 L1794.30 890.40 L1806.20 898.90 L1818.17 907.40 L1830.20 915.89 L1842.30 924.39" stroke="#ffb000"/>
<path d="M987.03 74.54 L993.92 83.04 L1000.85 91.53 L1007.83 100.03 L1014.86 108.53 L1021.93 117.03 L1029.05 125.53 L1036.22 134.03 L1043.43 142.53 L1050.69 151.02 L1058.00 159.52 L1065.36 168.02 L1072.76 176.52 L1080.21 185.02 L1087.71 193.52 L1095.26 202.02 L1102.86 210.51 L1110.51 219.01 L1118.20 227.51 L1125.95 236.01 L1133.74 244.51 L1141.59 253.01 L1149.48 261.51 L1157.42 270.00 L1165.42 278.50 L1173.46 287.00 L1181.56 295.50 L1189.71 304.00 L1197.90 312.50 L1206.15 321.00 L1214.45 329.49 L1222.80 337.99 L1231.21 346.49 L1239.66 354.99 L1248.17 363.49 L1256.73 371.99 L1265.35 380.49 L1274.01 388.98 L1282.74 397.48 L1291.51 405.98 L1300.34 414.48 L1309.22 422.98 L1318.15 431.48 L1327.14 439.98 L1336.19 448.47 L1345.29 456.97 L1354.44 465.47 L1363.65 473.97 L1372.92 482.47 L1382.24 490.97 L1391.61 499.47 L1401.05 507.96 L1410.54 516.46 L1420.08 524.96 L1429.68 533.46 L1439.34 541.96 L1449.06 550.46 L1458.84 558.96 L1468.67 567.45 L1478.56 575.95 L1488.51 584.45 L1498.52 592.95 L1508.58 601.45 L1518.71 609.95 L1528.89 618.44 L1539.13 626.94 L1549.44 635.44 L1559.80 643.94 L1570.23 652.44 L1580.71 660.94 L1591.26 669.44 L1601.86 677.93 L1612.53 686.43 L1623.26 694.93 L1634.05 703.43 L1644.90 711.93 L1655.81 720.43 L1666.79 728.93 L1677.83 737.42 L1688.93 745.92 L1700.10 754.42 L1711.33 762.92 L1722.62 771.42 L1733.98 779.92 L1745.40 788.42 L1756.89 796.91 L1768.44 805.41 L1780.06 813.91 L1791.74 822.41 L1803.48 830.91 L1815.30 839.41 L1827.18 847.91 L1839.12 856.40 L1851.13 864.90 L1863.21 873.40 L1875.36 881.90 L1887.57 890.40 L1899.86 898.90 L1912.21 907.40 L1924.63 915.89 L1937.11 924.39" stroke="#ffb000"/>
<path d="M1049.97 74.54 L1057.12 83.04 L1064.31 91.53 L1071.55 100.03 L1078.84 108.53 L1086.17 117.03 L1093.56 125.53 L1100.99 134.03 L1108.47 142.53 L1116.00 151.02 L1123.57 159.52 L1131.20 168.02 L1138.87 176.52 L1146.60 185.02 L1154.37 193.52 L1162.19 202.02 L1170.07 210.51 L1177.99 219.01 L1185.96 227.51 L1193.98 236.01 L1202.06 244.51 L1210.18 253.01 L1218.36 261.51 L1226.58 270.00 L1234.86 278.50 L1243.19 287.00 L1251.57 295.50 L1260.01 304.00 L1268.49 312.50 L1277.03 321.00 L1285.62 329.49 L1294.27 337.99 L1302.96 346.49 L1311.72 354.99 L1320.52 363.49 L1329.38 371.99 L1338.29 380.49 L1347.26 388.98 L1356.28 397.48 L1365.35 405.98 L1374.48 414.48 L1383.67 422.98 L1392.91 431.48 L1402.21 439.98 L1411.56 448.47 L1420.97 456.97 L1430.43 465.47 L1439.96 473.97 L1449.53 482.47 L1459.17 490.97 L1468.86 499.47 L1478.61 507.96 L1488.42 516.46 L1498.29 524.96 L1508.21 533.46 L1518.19 541.96 L1528.23 550.46 L1538.33 558.96 L1548.49 567.45 L1558.71 575.95 L1568.99 584.45 L1579.33 592.95 L1589.72 601.45 L1600.18 609.95 L1610.70 618.44 L1621.28 626.94 L1631.92 635.44 L1642.62 643.94 L1653.39 652.44 L1664.21 660.94 L1675.10 669.44 L1686.05 677.93 L1697.06 686.43 L1708.14 694.93 L1719.28 703.43 L1730.48 711.93 L1741.75 720.43 L1753.08 728.93 L1764.47 737.42 L1775.93 745.92 L1787.45 754.42 L1799.04 762.92 L1810.69 771.42 L1822.41 779.92 L1834.20 788.42 L1846.05 796.91 L1857.97 805.41 L1869.95 813.91 L1882.00 822.41 L1894.12 830.91 L1906.30 839.41 L1918.56 847.91 L1930.88 856.40 L1943.27 864.90 L1955.72 873.40 L1968.25 881.90 L1980.84 890.40 L1993.51 898.90 L2006.24 907.40 L2019.05 915.89 L2031.92 924.39" stroke="#ffb000"/>
<path d="M1112.91 74.54 L1120.31 83.04 L1127.77 91.53 L1135.27 100.03 L1142.82 108.53 L1150.42 117.03 L1158.06 125.53 L1165.76 134.03 L1173.51 142.53 L1181.30 151.02 L1189.15 159.52 L1197.04 168.02 L1204.98 176.52 L1212.98 185.02 L1221.03 193.52 L1229.12 202.02 L1237.27 210.51 L1245.47 219.01 L1253.72 227.51 L1262.02 236.01 L1270.37 244.51 L1278.78 253.01 L1287.23 261.51 L1295.74 270.00 L1304.30 278.50 L1312.92 287.00 L1321.59 295.50 L1330.31 304.00 L1339.08 312.50 L1347.91 321.00 L1356.79 329.49 L1365.73 337.99 L1374.72 346.49 L1383.77 354.99 L1392.87 363.49 L1402.02 371.99 L1411.23 380.49 L1420.50 388.98 L1429.82 397.48 L1439.20 405.98 L1448.63 414.48 L1458.12 422.98 L1467.67 431.48 L1477.27 439.98 L1486.93 448.47 L1496.65 456.97 L1506.43 465.47 L1516.26 473.97 L1526.15 482.47 L1536.10 490.97 L1546.11 499.47 L1556.18 507.96 L1566.30 516.46 L1576.49 524.96 L1586.73 533.46 L1597.04 541.96 L1607.40 550.46 L1617.83 558.96 L1628.31 567.45 L1638.86 575.95 L1649.47 584.45 L1660.14 592.95 L1670.87 601.45 L1681.66 609.95 L1692.51 618.44 L1703.43 626.94 L1714.40 635.44 L1725.44 643.94 L1736.55 652.44 L1747.72 660.94 L1758.95 669.44 L1770.24 677.93 L1781.60 686.43 L1793.02 694.93 L1804.51 703.43 L1816.06 711.93 L1827.68 720.43 L1839.36 728.93 L1851.11 737.42 L1862.92 745.92 L1874.80 754.42 L1886.75 762.92 L1898.76 771.42 L1910.85 779.92 L1922.99 788.42 L1935.21 796.91 L1947.49 805.41 L1959.84 813.91 L1972.26 822.41 L1984.75 830.91 L1997.31 839.41 L2009.93 847.91 L2022.63 856.40 L2035.40 864.90 L2048.23 873.40 L2061.14 881.90 L2074.12 890.40 L2087.16 898.90 L2100.28 907.40 L2113.47 915.89 L2126.74 924.39" stroke="#ffb000"/>
<path d="M1175.85 74.54 L1183.51 83.04 L1191.22 91.53 L1198.99 100.03 L1206.80 108.53 L1214.66 117.03 L1222.57 125.53 L1230.53 134.03 L1238.54 142.53 L1246.60 151.02 L1254.72 159.52 L1262.88 168.02 L1271.10 176.52 L1279.36 185.02 L1287.68 193.52 L1296.05 202.02 L1304.47 210.51 L1312.95 219.01 L1321.47 227.51 L1330.05 236.01 L1338.69 244.51 L1347.37 253.01 L1356.11 261.51 L1364.90 270.00 L1373.75 278.50 L1382.65 287.00 L1391.60 295.50 L1400.61 304.00 L1409.67 312.50 L1418.79 321.00 L1427.97 329.49 L1437.19 337.99 L1446.48 346.49 L1455.82 354.99 L1465.21 363.49 L1474.67 371.99 L1484.18 380.49 L1493.74 388.98 L1503.36 397.48 L1513.04 405.98 L1522.78 414.48 L1532.57 422.98 L1542.43 431.48 L1552.34 439.98 L1562.31 448.47 L1572.33 456.97 L1582.42 465.47 L1592.57 473.97 L1602.77 482.47 L1613.04 490.97 L1623.36 499.47 L1633.74 507.96 L1644.19 516.46 L1654.69 524.96 L1665.26 533.46 L1675.89 541.96 L1686.58 550.46 L1697.33 558.96 L1708.14 567.45 L1719.01 575.95 L1729.95 584.45 L1740.95 592.95 L1752.01 601.45 L1763.13 609.95 L1774.32 618.44 L1785.57 626.94 L1796.89 635.44 L1808.27 643.94 L1819.71 652.44 L1831.22 660.94 L1842.79 669.44 L1854.43 677.93 L1866.13 686.43 L1877.90 694.93 L1889.74 703.43 L1901.64 711.93 L1913.61 720.43 L1925.65 728.93 L1937.75 737.42 L1949.92 745.92 L1962.16 754.42 L1974.46 762.92 L1986.84 771.42 L1999.28 779.92 L2011.79 788.42 L2024.37 796.91 L2037.02 805.41 L2049.74 813.91 L2062.53 822.41 L2075.38 830.91 L2088.31 839.41 L2101.31 847.91 L2114.38 856.40 L2127.53 864.90 L2140.74 873.40 L2154.03 881.90 L2167.39 890.40 L2180.82 898.90 L2194.32 907.40 L2207.90 915.89 L2221.55 924.39" stroke="#ffb000"/>
<path d="M151.57 74.54 L154.90 83.04 L158.26 91.53 L161.65 100.03 L165.08 108.53 L168.53 117.03 L172.01 125.53 L175.52 134.03 L179.06 142.53 L182.62 151.02 L186.20 159.52 L189.81 168.02 L193.44 176.52 L197.09 185.02 L200.76 193.52 L204.45 202.02 L208.16 210.51 L211.89 219.01 L215.63 227.51 L219.39 236.01 L223.16 244.51 L226.94 253.01 L230.74 261.51 L234.55 270.00 L238.36 278.50 L242.19 287.00 L246.03 295.50 L249.87 304.00 L253.72 312.50 L257.57 321.00 L261.43 329.49 L265.29 337.99 L269.15 346.49 L273.02 354.99 L276.88 363.49 L280.74 371.99 L284.60 380.49 L288.46 388.98 L292.31 397.48 L296.16 405.98 L300.00 414.48 L303.84 422.98 L307.66 431.48 L311.48 439.98 L315.29 448.47 L319.08 456.97 L322.86 465.47 L326.63 473.97 L330.39 482.47 L334.13 490.97 L337.85 499.47 L341.56 507.96 L345.24 516.46 L348.91 524.96 L352.56 533.46 L356.18 541.96 L359.78 550.46 L363.36 558.96 L366.92 567.45 L370.44 575.95 L373.94 584.45 L377.42 592.95 L380.86 601.45 L384.27 609.95 L387.66 618.44 L391.01 626.94 L394.32 635.44 L397.61 643.94 L400.85 652.44 L404.07 660.94 L407.24 669.44 L410.37 677.93 L413.47 686.43 L416.52 694.93 L419.54 703.43 L422.51 711.93 L425.43 720.43 L428.31 728.93 L431.15 737.42 L433.94 745.92 L436.68 754.42 L439.37 762.92 L442.01 771.42 L444.60 779.92 L447.14 788.42 L449.62 796.91 L452.05 805.41 L454.43 813.91 L456.74 822.41 L459.00 830.91 L461.20 839.41 L463.34 847.91 L465.42 856.40 L467.44 864.90 L469.40 873.40 L471.29 881.90 L473.11 890.40 L474.87 898.90 L476.56 907.40 L478.18 915.89 L479.74 924.39" stroke="#90dc00"/>
<path d="M217.18 74.54 L220.52 83.04 L223.91 91.53 L227.33 100.03 L230.80 108.53 L234.31 117.03 L237.85 125.53 L241.43 134.03 L245.04 142.53 L248.68 151.02 L252.35 159.52 L256.04 168.02 L259.75 176.52 L263.49 185.02 L267.25 193.52 L271.02 202.02 L274.82 210.51 L278.62 219.01 L282.44 227.51 L286.26 236.01 L290.10 244.51 L293.94 253.01 L297.79 261.51 L301.64 270.00 L305.50 278.50 L309.35 287.00 L313.20 295.50 L317.05 304.00 L320.89 312.50 L324.73 321.00 L328.56 329.49 L332.38 337.99 L336.19 346.49 L339.98 354.99 L343.77 363.49 L347.53 371.99 L351.29 380.49 L355.02 388.98 L358.73 397.48 L362.43 405.98 L366.10 414.48 L369.75 422.98 L373.37 431.48 L376.97 439.98 L380.54 448.47 L384.09 456.97 L387.60 465.47 L391.09 473.97 L394.55 482.47 L397.97 490.97 L401.36 499.47 L404.72 507.96 L408.04 516.46 L411.32 524.96 L414.57 533.46 L417.78 541.96 L420.96 550.46 L424.09 558.96 L427.18 567.45 L430.24 575.95 L433.25 584.45 L436.21 592.95 L439.14 601.45 L442.02 609.95 L444.86 618.44 L447.65 626.94 L450.40 635.44 L453.10 643.94 L455.76 652.44 L458.36 660.94 L460.92 669.44 L463.44 677.93 L465.90 686.43 L468.32 694.93 L470.68 703.43 L473.00 711.93 L475.26 720.43 L477.48 728.93 L479.65 737.42 L481.76 745.92 L483.82 754.42 L485.84 762.92 L487.80 771.42 L489.71 779.92 L491.57 788.42 L493.38 796.91 L495.13 805.41 L496.84 813.91 L498.49 822.41 L500.09 830.91 L501.64 839.41 L503.13 847.91 L504.58 856.40 L505.98 864.90 L507.32 873.40 L508.61 881.90 L509.85 890.40 L511.04 898.90 L512.19 907.40 L513.28 915.89 L514.32 924.39" stroke="#90dc00"/>
<path d="M292.73 74.54 L296.11 83.04 L299.53 91.53 L303.00 100.03 L306.52 108.53 L310.07 117.03 L313.67 125.53 L317.30 134.03 L320.95 142.53 L324.64 151.02 L328.35 159.52 L332.08 168.02 L335.82 176.52 L339.58 185.02 L343.35 193.52 L347.13 202.02 L350.91 210.51 L354.69 219.01 L358.48 227.51 L362.26 236.01 L366.03 244.51 L369.80 253.01 L373.55 261.51 L377.29 270.00 L381.02 278.50 L384.72 287.00 L388.41 295.50 L392.08 304.00 L395.72 312.50 L399.33 321.00 L402.92 329.49 L406.48 337.99 L410.00 346.49 L413.49 354.99 L416.95 363.49 L420.37 371.99 L423.76 380.49 L427.10 388.98 L430.40 397.48 L433.67 405.98 L436.89 414.48 L440.06 422.98 L443.19 431.48 L446.28 439.98 L449.32 448.47 L452.31 456.97 L455.26 465.47 L458.15 473.97 L461.00 482.47 L463.80 490.97 L466.54 499.47 L469.24 507.96 L471.89 516.46 L474.48 524.96 L477.03 533.46 L479.52 541.96 L481.97 550.46 L484.36 558.96 L486.70 567.45 L488.99 575.95 L491.23 584.45 L493.43 592.95 L495.57 601.45 L497.66 609.95 L499.71 618.44 L501.71 626.94 L503.67 635.44 L505.57 643.94 L507.44 652.44 L509.26 660.94 L511.04 669.44 L512.77 677.93 L514.47 686.43 L516.12 694.93 L517.74 703.43 L519.33 711.93 L520.88 720.43 L522.39 728.93 L523.88 737.42 L525.33 745.92 L526.76 754.42 L528.16 762.92 L529.54 771.42 L530.90 779.92 L532.23 788.42 L533.55 796.91 L534.86 805.41 L536.15 813.91 L537.43 822.41 L538.70 830.91 L539.96 839.41 L541.23 847.91 L542.49 856.40 L543.75 864.90 L545.02 873.40 L546.30 881.90 L547.59 890.40 L548.90 898.90 L550.22 907.40 L551.56 915.89 L552.92 924.39" stroke="#90dc00"/>
<path d="M376.53 74.54 L380.04 83.04 L383.57 91.53 L387.11 100.03 L390.68 108.53 L394.26 117.03 L397.85 125.53 L401.45 134.03 L405.05 142.53 L408.65 151.02 L412.26 159.52 L415.85 168.02 L419.44 176.52 L423.03 185.02 L426.59 193.52 L430.15 202.02 L433.69 210.51 L437.20 219.01 L440.70 227.51 L444.17 236.01 L447.62 244.51 L451.04 253.01 L454.43 261.51 L457.79 270.00 L461.11 278.50 L464.40 287.00 L467.65 295.50 L470.86 304.00 L474.03 312.50 L477.16 321.00 L480.25 329.49 L483.30 337.99 L486.29 346.49 L489.24 354.99 L492.15 363.49 L495.00 371.99 L497.81 380.49 L500.56 388.98 L503.27 397.48 L505.92 405.98 L508.52 414.48 L511.06 422.98 L513.56 431.48 L515.99 439.98 L518.38 448.47 L520.71 456.97 L522.98 465.47 L525.20 473.97 L527.36 482.47 L529.47 490.97 L531.53 499.47 L533.53 507.96 L535.47 516.46 L537.36 524.96 L539.20 533.46 L540.99 541.96 L542.72 550.46 L544.40 558.96 L546.03 567.45 L547.61 575.95 L549.13 584.45 L550.61 592.95 L552.05 601.45 L553.43 609.95 L554.77 618.44 L556.07 626.94 L557.32 635.44 L558.53 643.94 L559.70 652.44 L560.83 660.94 L561.93 669.44 L562.99 677.93 L564.02 686.43 L565.01 694.93 L565.98 703.43 L566.91 711.93 L567.82 720.43 L568.71 728.93 L569.58 737.42 L570.42 745.92 L571.25 754.42 L572.07 762.92 L572.87 771.42 L573.66 779.92 L574.45 788.42 L575.23 796.91 L576.01 805.41 L576.79 813.91 L577.58 822.41 L578.37 830.91 L579.18 839.41 L579.99 847.91 L580.83 856.40 L581.68 864.90 L582.56 873.40 L583.47 881.90 L584.40 890.40 L585.37 898.90 L586.38 907.40 L587.43 915.89 L588.52 924.39" stroke="#90dc00"/>
<path d="M468.03 74.54 L471.55 83.04 L475.05 91.53 L478.52 100.03 L481.95 108.53 L485.36 117.03 L488.74 125.53 L492.09 134.03 L495.40 142.53 L498.67 151.02 L501.91 159.52 L505.11 168.02 L508.27 176.52 L511.39 185.02 L514.47 193.52 L517.50 202.02 L520.49 210.51 L523.44 219.01 L526.34 227.51 L529.19 236.01 L532.00 244.51 L534.76 253.01 L537.47 261.51 L540.12 270.00 L542.73 278.50 L545.29 287.00 L547.80 295.50 L550.26 304.00 L552.66 312.50 L555.02 321.00 L557.31 329.49 L559.56 337.99 L561.75 346.49 L563.90 354.99 L565.98 363.49 L568.02 371.99 L570.00 380.49 L571.92 388.98 L573.80 397.48 L575.62 405.98 L577.39 414.48 L579.10 422.98 L580.77 431.48 L582.38 439.98 L583.94 448.47 L585.45 456.97 L586.91 465.47 L588.32 473.97 L589.68 482.47 L590.99 490.97 L592.25 499.47 L593.47 507.96 L594.64 516.46 L595.77 524.96 L596.85 533.46 L597.89 541.96 L598.88 550.46 L599.84 558.96 L600.75 567.45 L601.63 575.95 L602.47 584.45 L603.27 592.95 L604.03 601.45 L604.77 609.95 L605.47 618.44 L606.14 626.94 L606.78 635.44 L607.39 643.94 L607.98 652.44 L608.54 660.94 L609.08 669.44 L609.60 677.93 L610.11 686.43 L610.59 694.93 L611.06 703.43 L611.52 711.93 L611.96 720.43 L612.40 728.93 L612.83 737.42 L613.26 745.92 L613.68 754.42 L614.11 762.92 L614.53 771.42 L614.96 779.92 L615.40 788.42 L615.85 796.91 L616.31 805.41 L616.79 813.91 L617.29 822.41 L617.80 830.91 L618.34 839.41 L618.91 847.91 L619.50 856.40 L620.13 864.90 L620.79 873.40 L621.49 881.90 L622.23 890.40 L623.01 898.90 L623.84 907.40 L624.72 915.89 L625.66 924.39" stroke="#90dc00"/>
<path d="M566.92 74.54 L569.81 83.04 L572.63 91.53 L575.40 100.03 L578.10 108.53 L580.75 117.03 L583.34 125.53 L585.87 134.03 L588.34 142.53 L590.76 151.02 L593.12 159.52 L595.42 168.02 L597.67 176.52 L599.86 185.02 L602.00 193.52 L604.08 202.02 L606.11 210.51 L608.09 219.01 L610.01 227.51 L611.88 236.01 L613.70 244.51 L615.47 253.01 L617.18 261.51 L618.85 270.00 L620.47 278.50 L622.04 287.00 L623.56 295.50 L625.03 304.00 L626.46 312.50 L627.84 321.00 L629.17 329.49 L630.46 337.99 L631.71 346.49 L632.91 354.99 L634.07 363.49 L635.18 371.99 L636.26 380.49 L637.29 388.98 L638.29 397.48 L639.24 405.98 L640.16 414.48 L641.04 422.98 L641.89 431.48 L642.69 439.98 L643.47 448.47 L644.21 456.97 L644.91 465.47 L645.58 473.97 L646.23 482.47 L646.84 490.97 L647.42 499.47 L647.97 507.96 L648.49 516.46 L648.99 524.96 L649.46 533.46 L649.91 541.96 L650.33 550.46 L650.73 558.96 L651.11 567.45 L651.46 575.95 L651.80 584.45 L652.12 592.95 L652.41 601.45 L652.70 609.95 L652.96 618.44 L653.21 626.94 L653.45 635.44 L653.67 643.94 L653.89 652.44 L654.09 660.94 L654.28 669.44 L654.47 677.93 L654.65 686.43 L654.82 694.93 L654.99 703.43 L655.15 711.93 L655.31 720.43 L655.48 728.93 L655.64 737.42 L655.80 745.92 L655.96 754.42 L656.13 762.92 L656.31 771.42 L656.49 779.92 L656.68 788.42 L656.88 796.91 L657.09 805.41 L657.31 813.91 L657.54 822.41 L657.79 830.91 L658.05 839.41 L658.34 847.91 L658.64 856.40 L658.96 864.90 L659.30 873.40 L659.66 881.90 L660.05 890.40 L660.47 898.90 L660.91 907.40 L661.38 915.89 L661.88 924.39" stroke="#90dc00"/>
<path d="M666.13 74.54 L667.87 83.04 L669.53 91.53 L671.14 100.03 L672.68 108.53 L674.17 117.03 L675.59 125.53 L676.96 134.03 L678.27 142.53 L679.53 151.02 L680.74 159.52 L681.89 168.02 L683.00 176.52 L684.05 185.02 L685.06 193.52 L686.02 202.02 L686.93 210.51 L687.80 219.01 L688.63 227.51 L689.42 236.01 L690.16 244.51 L690.87 253.01 L691.54 261.51 L692.17 270.00 L692.76 278.50 L693.32 287.00 L693.85 295.50 L694.34 304.00 L694.81 312.50 L695.24 321.00 L695.64 329.49 L696.01 337.99 L696.36 346.49 L696.68 354.99 L696.98 363.49 L697.25 371.99 L697.49 380.49 L697.72 388.98 L697.92 397.48 L698.10 405.98 L698.27 414.48 L698.41 422.98 L698.53 431.48 L698.64 439.98 L698.74 448.47 L698.81 456.97 L698.87 465.47 L698.92 473.97 L698.96 482.47 L698.98 490.97 L698.99 499.47 L698.99 507.96 L698.98 516.46 L698.96 524.96 L698.94 533.46 L698.90 541.96 L698.86 550.46 L698.81 558.96 L698.76 567.45 L698.70 575.95 L698.63 584.45 L698.56 592.95 L698.49 601.45 L698.41 609.95 L698.34 618.44 L698.26 626.94 L698.18 635.44 L698.10 643.94 L698.01 652.44 L697.93 660.94 L697.85 669.44 L697.77 677.93 L697.70 686.43 L697.62 694.93 L697.55 703.43 L697.48 711.93 L697.41 720.43 L697.35 728.93 L697.29 737.42 L697.24 745.92 L697.19 754.42 L697.14 762.92 L697.10 771.42 L697.07 779.92 L697.04 788.42 L697.02 796.91 L697.01 805.41 L697.00 813.91 L697.00 822.41 L697.01 830.91 L697.02 839.41 L697.05 847.91 L697.08 856.40 L697.11 864.90 L697.16 873.40 L697.21 881.90 L697.27 890.40 L697.35 898.90 L697.42 907.40 L697.51 915.89 L697.61 924.39" stroke="#90dc00"/>
<path d="M238.78 895.50 L416.28 352.87" stroke="#90dc00" stroke-dasharray="4 5"/>
<path d="M318.70 895.50 L488.89 352.87" stroke="#90dc00" stroke-dasharray="4 5"/>
<path d="M368.22 895.50 L533.76 352.87" stroke="#90dc00" stroke-dasharray="4 5"/>
<path d="M433.73 895.50 L592.96 352.87" stroke="#90dc00" stroke-dasharray="4 5"/>
<path d="M497.22 895.50 L650.18 352.87" stroke="#90dc00" stroke-dasharray="4 5"/>
<path d="M554.53 895.50 L701.70 352.87" stroke="#90dc00" stroke-dasharray="4 5"/>
<path d="M630.09 895.50 L769.42 352.87" stroke="#90dc00" stroke-dasharray="4 5"/>
</g>
<path d="M69.5 74.5 L720.5 74.5 L720.5 353.5 L866.5 616.0 L866.5 924.5 L69.5 924.5 Z" fill="none" stroke="#000" stroke-width="1"/>
<line x1="70" y1="78" x2="70" y2="864" stroke="#00b400" stroke-width="2"/>
<g clip-path="url(#pc)">
<path d="M177.00 78.60 L177.00 159.70 L175.40 202.60 L173.10 237.70 L170.00 250.00 L165.30 280.60 L160.00 300.00 L153.60 323.50 L150.00 335.00 L144.00 350.00 L135.00 367.50 L120.00 390.00 L100.00 417.50 L87.30 427.00 L69.80 442.50 L40.00 465.00 L40.00 525.00 L70.00 535.50 L105.00 551.00 L185.00 582.50 L240.00 606.50 L262.00 619.00 L295.00 642.50 L310.00 657.00 L320.00 670.00 L332.50 687.50 L340.00 708.80 L345.00 722.00 L349.60 737.00 L360.00 750.00 L371.00 764.00 L375.00 780.00 L375.00 800.00 L372.00 820.00 L370.00 840.00 L370.00 854.00 L373.00 861.00 L377.00 863.00" fill="none" stroke="#0064ff" stroke-width="3" stroke-linejoin="round"/>
<path d="M399.30 78.80 L391.30 110.00 L386.30 130.00 L381.30 165.00 L379.30 185.00 L379.30 240.00 L381.30 275.00 L383.00 300.00 L384.50 330.00 L386.30 362.50 L390.00 400.00 L393.80 437.50 L396.30 462.50 L395.50 512.50 L390.80 540.00 L384.00 567.00 L378.80 580.00 L371.60 600.40 L369.20 608.80 L369.20 642.40 L371.60 654.40 L377.60 684.40 L380.00 692.00 L390.00 720.00 L400.00 750.00 L405.00 772.00 L410.00 782.00 L418.00 796.00 L430.00 812.00 L440.00 828.00 L450.00 842.00 L460.00 854.00 L468.00 861.00 L474.00 863.00 L479.60 863.60" fill="none" stroke="#ff0000" stroke-width="3" stroke-linejoin="round"/>
<path d="M378.80 684.40 L381.20 692.00 L391.20 720.00 L401.20 750.00 L405.00 760.00 L409.00 773.00 L413.00 778.00 L474.00 862.00 L479.60 863.60" fill="none" stroke="#6a006a" stroke-width="2.2" stroke-dasharray="7 4"/>
<circle cx="479.6" cy="863.6" r="4.2" fill="#ff0000"/>
<circle cx="394.4" cy="863.6" r="3.8" fill="#0064ff"/>
</g>
<circle cx="70.5" cy="42" r="5.3" fill="#000"/>
<text x="82.5" y="47.4" font-size="20.5" fill="#000" font-weight="normal" text-anchor="start" textLength="128.0" lengthAdjust="spacingAndGlyphs" stroke="#000" stroke-width="0.35" >FujigawaGP</text>
<text x="215.0" y="45.6" font-size="14.0" fill="#000" font-weight="normal" text-anchor="start" textLength="154.0" lengthAdjust="spacingAndGlyphs" stroke="#000" stroke-width="0.30" >35.117°,138.635° (48,1)</text>
<text x="390.5" y="47.4" font-size="20.5" fill="#000" font-weight="normal" text-anchor="start" textLength="156.0" lengthAdjust="spacingAndGlyphs" stroke="#000" stroke-width="0.35" >Valid 1200 JST</text>
<text x="554.0" y="46.0" font-size="14.5" fill="#000" font-weight="normal" text-anchor="start" textLength="61.0" lengthAdjust="spacingAndGlyphs" stroke="#000" stroke-width="0.30" >(0300Z)</text>
<text x="622.5" y="47.4" font-size="20.5" fill="#000" font-weight="normal" text-anchor="start" textLength="162.0" lengthAdjust="spacingAndGlyphs" stroke="#000" stroke-width="0.35" >FRI 5 Dec 2025</text>
<text x="792.0" y="46.0" font-size="14.5" fill="#000" font-weight="normal" text-anchor="start" textLength="131.0" lengthAdjust="spacingAndGlyphs" stroke="#000" stroke-width="0.30" >[9hrFcst@2207z]</text>
<text x="328.5" y="70.6" font-size="14.5" fill="#a0003a" font-weight="bold" text-anchor="start" textLength="335.0" lengthAdjust="spacingAndGlyphs" >Plcl=810 Tlcl[C]=-5 Shox=13 Pwat[cm]=1 Cape[J]= 46</text>
<text x="56.0" y="81.5" font-size="18.5" fill="#000" font-weight="normal" text-anchor="end" stroke="#000" stroke-width="0.50" >250</text>
<text x="56.0" y="189.5" font-size="18.5" fill="#000" font-weight="normal" text-anchor="end" stroke="#000" stroke-width="0.50" >300</text>
<text x="56.0" y="359.9" font-size="18.5" fill="#000" font-weight="normal" text-anchor="end" stroke="#000" stroke-width="0.50" >400</text>
<text x="56.0" y="492.0" font-size="18.5" fill="#000" font-weight="normal" text-anchor="end" stroke="#000" stroke-width="0.50" >500</text>
<text x="56.0" y="691.3" font-size="18.5" fill="#000" font-weight="normal" text-anchor="end" stroke="#000" stroke-width="0.50" >700</text>
<text x="56.0" y="806.3" font-size="18.5" fill="#000" font-weight="normal" text-anchor="end" stroke="#000" stroke-width="0.50" >850</text>
<text x="56.0" y="902.5" font-size="18.5" fill="#000" font-weight="normal" text-anchor="end" stroke="#000" stroke-width="0.50" >1000</text>
<text x="0" y="0" font-size="16.5" transform="translate(22 520) rotate(-90)" text-anchor="middle" textLength="56" lengthAdjust="spacingAndGlyphs" stroke="#000" stroke-width="0.4">P (hPa)</text>
<text x="60.5" y="72.0" font-size="14.0" fill="#00b400" font-weight="bold" text-anchor="start" textLength="19.0" lengthAdjust="spacingAndGlyphs" >0.0</text>
<text x="60.5" y="88.5" font-size="14.0" fill="#000" font-weight="bold" text-anchor="start" textLength="19.0" lengthAdjust="spacingAndGlyphs" >0.0</text>
<text x="60.5" y="922.5" font-size="14.0" fill="#00b400" font-weight="bold" text-anchor="start" textLength="19.0" lengthAdjust="spacingAndGlyphs" >0.0</text>
<text x="60.5" y="939.0" font-size="14.0" fill="#000" font-weight="bold" text-anchor="start" textLength="19.0" lengthAdjust="spacingAndGlyphs" >0.0</text>
<text x="94.5" y="72.0" font-size="14.0" fill="#00b400" font-weight="bold" text-anchor="start" textLength="19.0" lengthAdjust="spacingAndGlyphs" >0.5</text>
<text x="94.5" y="88.5" font-size="14.0" fill="#000" font-weight="bold" text-anchor="start" textLength="19.0" lengthAdjust="spacingAndGlyphs" >0.5</text>
<text x="94.5" y="922.5" font-size="14.0" fill="#00b400" font-weight="bold" text-anchor="start" textLength="19.0" lengthAdjust="spacingAndGlyphs" >0.5</text>
<text x="94.5" y="939.0" font-size="14.0" fill="#000" font-weight="bold" text-anchor="start" textLength="19.0" lengthAdjust="spacingAndGlyphs" >0.5</text>
<text x="129.5" y="72.0" font-size="14.0" fill="#00b400" font-weight="bold" text-anchor="start" textLength="19.0" lengthAdjust="spacingAndGlyphs" >1.0</text>
<text x="129.5" y="88.5" font-size="14.0" fill="#000" font-weight="bold" text-anchor="start" textLength="19.0" lengthAdjust="spacingAndGlyphs" >1.0</text>
<text x="129.5" y="922.5" font-size="14.0" fill="#00b400" font-weight="bold" text-anchor="start" textLength="19.0" lengthAdjust="spacingAndGlyphs" >1.0</text>
<text x="129.5" y="939.0" font-size="14.0" fill="#000" font-weight="bold" text-anchor="start" textLength="19.0" lengthAdjust="spacingAndGlyphs" >1.0</text>
<text x="156.0" y="922.5" font-size="14.5" fill="#00b400" font-weight="bold" text-anchor="start" textLength="117.0" lengthAdjust="spacingAndGlyphs" >CloudWater (g/Kg)</text>
<text x="156.0" y="939.0" font-size="14.5" fill="#000" font-weight="bold" text-anchor="start" textLength="140.0" lengthAdjust="spacingAndGlyphs" >Grid-Scale Cloudiness</text>
<line x1="104.5" y1="924" x2="104.5" y2="932" stroke="#000" shape-rendering="crispEdges"/>
<text x="104.0" y="962.0" font-size="17.0" fill="#000" font-weight="normal" text-anchor="middle" stroke="#000" stroke-width="0.50" >-30</text>
<line x1="197.5" y1="924" x2="197.5" y2="932" stroke="#000" shape-rendering="crispEdges"/>
<text x="197.5" y="962.0" font-size="17.0" fill="#000" font-weight="normal" text-anchor="middle" stroke="#000" stroke-width="0.50" >-20</text>
<line x1="290.5" y1="924" x2="290.5" y2="932" stroke="#000" shape-rendering="crispEdges"/>
<text x="291.0" y="962.0" font-size="17.0" fill="#000" font-weight="normal" text-anchor="middle" stroke="#000" stroke-width="0.50" >-10</text>
<line x1="384.5" y1="924" x2="384.5" y2="932" stroke="#000" shape-rendering="crispEdges"/>
<text x="384.5" y="962.0" font-size="17.0" fill="#000" font-weight="normal" text-anchor="middle" stroke="#000" stroke-width="0.50" >0</text>
<line x1="477.5" y1="924" x2="477.5" y2="932" stroke="#000" shape-rendering="crispEdges"/>
<text x="478.0" y="962.0" font-size="17.0" fill="#000" font-weight="normal" text-anchor="middle" stroke="#000" stroke-width="0.50" >10</text>
<line x1="570.5" y1="924" x2="570.5" y2="932" stroke="#000" shape-rendering="crispEdges"/>
<text x="571.5" y="962.0" font-size="17.0" fill="#000" font-weight="normal" text-anchor="middle" stroke="#000" stroke-width="0.50" >20</text>
<line x1="663.5" y1="924" x2="663.5" y2="932" stroke="#000" shape-rendering="crispEdges"/>
<text x="665.0" y="962.0" font-size="17.0" fill="#000" font-weight="normal" text-anchor="middle" stroke="#000" stroke-width="0.50" >30</text>
<line x1="757.5" y1="924" x2="757.5" y2="932" stroke="#000" shape-rendering="crispEdges"/>
<text x="758.5" y="962.0" font-size="17.0" fill="#000" font-weight="normal" text-anchor="middle" stroke="#000" stroke-width="0.50" >40</text>
<text x="494.5" y="985.6" font-size="16.5" fill="#000" font-weight="normal" text-anchor="middle" textLength="127.0" lengthAdjust="spacingAndGlyphs" >Temperature (C)</text>
<line x1="815.5" y1="74.5" x2="815.5" y2="903" stroke="#000"/>
<line x1="919" y1="74" x2="919" y2="925" stroke="#000" stroke-width="2.2" shape-rendering="crispEdges"/>
<text x="815.5" y="90.0" font-size="13.0" fill="#ff0000" font-weight="bold" text-anchor="middle" >0</text>
<text x="815.5" y="922.5" font-size="13.0" fill="#ff0000" font-weight="bold" text-anchor="middle" >0</text>
<text x="867.0" y="90.0" font-size="13.0" fill="#ff0000" font-weight="bold" text-anchor="middle" >40</text>
<text x="867.0" y="922.5" font-size="13.0" fill="#ff0000" font-weight="bold" text-anchor="middle" >40</text>
<text x="919.0" y="90.0" font-size="13.0" fill="#ff0000" font-weight="bold" text-anchor="middle" >80</text>
<text x="919.0" y="922.5" font-size="13.0" fill="#ff0000" font-weight="bold" text-anchor="middle" >80</text>
<text x="970.7" y="90.0" font-size="13.0" fill="#ff0000" font-weight="bold" text-anchor="middle" >120</text>
<text x="970.7" y="922.5" font-size="13.0" fill="#ff0000" font-weight="bold" text-anchor="middle" >120</text>
<text x="869.0" y="940.0" font-size="13.0" fill="#ff0000" font-weight="bold" text-anchor="middle" textLength="64.0" lengthAdjust="spacingAndGlyphs" >Speed (kt)</text>
<line x1="919" y1="902.5" x2="930" y2="902.5" stroke="#000" shape-rendering="crispEdges"/>
<text x="942.0" y="909.2" font-size="18.0" fill="#000" font-weight="normal" text-anchor="start" stroke="#000" stroke-width="0.50" >0</text>
<line x1="919" y1="860.5" x2="930" y2="860.5" stroke="#000" shape-rendering="crispEdges"/>
<text x="942.0" y="866.5" font-size="18.0" fill="#000" font-weight="normal" text-anchor="start" stroke="#000" stroke-width="0.50" >2</text>
<line x1="919" y1="816.5" x2="930" y2="816.5" stroke="#000" shape-rendering="crispEdges"/>
<text x="942.0" y="822.8" font-size="18.0" fill="#000" font-weight="normal" text-anchor="start" stroke="#000" stroke-width="0.50" >4</text>
<line x1="919" y1="771.5" x2="930" y2="771.5" stroke="#000" shape-rendering="crispEdges"/>
<text x="942.0" y="777.7" font-size="18.0" fill="#000" font-weight="normal" text-anchor="start" stroke="#000" stroke-width="0.50" >6</text>
<line x1="919" y1="726.5" x2="930" y2="726.5" stroke="#000" shape-rendering="crispEdges"/>
<text x="942.0" y="733.4" font-size="18.0" fill="#000" font-weight="normal" text-anchor="start" stroke="#000" stroke-width="0.50" >8</text>
<line x1="919" y1="681.5" x2="930" y2="681.5" stroke="#000" shape-rendering="crispEdges"/>
<text x="942.0" y="687.8" font-size="18.0" fill="#000" font-weight="normal" text-anchor="start" stroke="#000" stroke-width="0.50" >10</text>
<line x1="919" y1="635.5" x2="930" y2="635.5" stroke="#000" shape-rendering="crispEdges"/>
<text x="942.0" y="641.7" font-size="18.0" fill="#000" font-weight="normal" text-anchor="start" stroke="#000" stroke-width="0.50" >12</text>
<line x1="919" y1="588.5" x2="930" y2="588.5" stroke="#000" shape-rendering="crispEdges"/>
<text x="942.0" y="594.9" font-size="18.0" fill="#000" font-weight="normal" text-anchor="start" stroke="#000" stroke-width="0.50" >14</text>
<line x1="919" y1="540.5" x2="930" y2="540.5" stroke="#000" shape-rendering="crispEdges"/>
<text x="942.0" y="546.9" font-size="18.0" fill="#000" font-weight="normal" text-anchor="start" stroke="#000" stroke-width="0.50" >16</text>
<line x1="919" y1="491.5" x2="930" y2="491.5" stroke="#000" shape-rendering="crispEdges"/>
<text x="942.0" y="497.6" font-size="18.0" fill="#000" font-weight="normal" text-anchor="start" stroke="#000" stroke-width="0.50" >18</text>
<line x1="919" y1="442.5" x2="930" y2="442.5" stroke="#000" shape-rendering="crispEdges"/>
<text x="942.0" y="448.9" font-size="18.0" fill="#000" font-weight="normal" text-anchor="start" stroke="#000" stroke-width="0.50" >20</text>
<line x1="919" y1="392.5" x2="930" y2="392.5" stroke="#000" shape-rendering="crispEdges"/>
<text x="942.0" y="399.0" font-size="18.0" fill="#000" font-weight="normal" text-anchor="start" stroke="#000" stroke-width="0.50" >22</text>
<line x1="919" y1="341.5" x2="930" y2="341.5" stroke="#000" shape-rendering="crispEdges"/>
<text x="942.0" y="347.6" font-size="18.0" fill="#000" font-weight="normal" text-anchor="start" stroke="#000" stroke-width="0.50" >24</text>
<line x1="919" y1="290.5" x2="930" y2="290.5" stroke="#000" shape-rendering="crispEdges"/>
<text x="942.0" y="296.9" font-size="18.0" fill="#000" font-weight="normal" text-anchor="start" stroke="#000" stroke-width="0.50" >26</text>
<line x1="919" y1="237.5" x2="930" y2="237.5" stroke="#000" shape-rendering="crispEdges"/>
<text x="942.0" y="244.1" font-size="18.0" fill="#000" font-weight="normal" text-anchor="start" stroke="#000" stroke-width="0.50" >28</text>
<line x1="919" y1="184.5" x2="930" y2="184.5" stroke="#000" shape-rendering="crispEdges"/>
<text x="942.0" y="190.8" font-size="18.0" fill="#000" font-weight="normal" text-anchor="start" stroke="#000" stroke-width="0.50" >30</text>
<line x1="919" y1="129.5" x2="930" y2="129.5" stroke="#000" shape-rendering="crispEdges"/>
<text x="942.0" y="136.1" font-size="18.0" fill="#000" font-weight="normal" text-anchor="start" stroke="#000" stroke-width="0.50" >32</text>
<text x="0" y="0" font-size="20" transform="translate(884.3 499.6) rotate(90)" text-anchor="middle" textLength="159.5" lengthAdjust="spacingAndGlyphs" stroke="#000" stroke-width="0.4">Height (1000 Feet)</text>
<path d="M999.50 185.00 L980.80 290.00 L961.60 393.20 L952.00 446.00 L942.40 489.00 L938.00 500.00 L928.00 525.00 L918.30 550.40 L904.00 572.00 L883.30 608.00 L868.00 643.90 L862.50 664.00 L860.30 676.00 L859.60 716.80 L858.40 747.20 L854.80 764.00 L853.60 800.00 L852.40 843.20 L850.00 858.80 L846.50 862.30 L841.60 863.60" fill="none" stroke="#ff0000" stroke-width="1"/>
<text x="0" y="0" font-size="15.0" fill="#ffb000" text-anchor="middle" dominant-baseline="central" transform="translate(78.0 177.0) rotate(60.0)" stroke="#ffb000" stroke-width="0.30">10</text>
<text x="0" y="0" font-size="15.0" fill="#ffb000" text-anchor="middle" dominant-baseline="central" transform="translate(80.0 342.0) rotate(60.0)" stroke="#ffb000" stroke-width="0.30">0</text>
<text x="0" y="0" font-size="15.0" fill="#ffb000" text-anchor="middle" dominant-baseline="central" transform="translate(81.0 506.0) rotate(60.0)" stroke="#ffb000" stroke-width="0.30">-10</text>
<text x="0" y="0" font-size="15.0" fill="#ffb000" text-anchor="middle" dominant-baseline="central" transform="translate(79.0 667.0) rotate(60.0)" stroke="#ffb000" stroke-width="0.30">-20</text>
<text x="0" y="0" font-size="15.0" fill="#ffb000" text-anchor="middle" dominant-baseline="central" transform="translate(79.0 828.0) rotate(60.0)" stroke="#ffb000" stroke-width="0.30">-30</text>
<text x="0" y="0" font-size="22.0" fill="#ffb000" text-anchor="middle" dominant-baseline="central" transform="translate(731.0 243.0) rotate(-60.0)">0</text>
<text x="0" y="0" font-size="22.0" fill="#ffb000" text-anchor="middle" dominant-baseline="central" transform="translate(756.0 380.0) rotate(-60.0)">10</text>
<text x="0" y="0" font-size="22.0" fill="#ffb000" text-anchor="middle" dominant-baseline="central" transform="translate(804.0 469.0) rotate(-60.0)">20</text>
<text x="0" y="0" font-size="22.0" fill="#ffb000" text-anchor="middle" dominant-baseline="central" transform="translate(853.5 556.0) rotate(-60.0)">30</text>
<text x="0" y="0" font-size="13.5" fill="#90dc00" text-anchor="middle" dominant-baseline="central" transform="translate(234.0 910.0) rotate(-60.0)" stroke="#90dc00" stroke-width="0.20">1</text>
<text x="0" y="0" font-size="13.5" fill="#90dc00" text-anchor="middle" dominant-baseline="central" transform="translate(316.0 909.0) rotate(-60.0)" stroke="#90dc00" stroke-width="0.20">2</text>
<text x="0" y="0" font-size="13.5" fill="#90dc00" text-anchor="middle" dominant-baseline="central" transform="translate(364.0 909.0) rotate(-85.0)" stroke="#90dc00" stroke-width="0.20">3</text>
<text x="0" y="0" font-size="13.5" fill="#90dc00" text-anchor="middle" dominant-baseline="central" transform="translate(430.0 909.0) rotate(-85.0)" stroke="#90dc00" stroke-width="0.20">5</text>
<text x="0" y="0" font-size="13.5" fill="#90dc00" text-anchor="middle" dominant-baseline="central" transform="translate(491.0 909.0) rotate(-40.0)" stroke="#90dc00" stroke-width="0.20">8</text>
<text x="0" y="0" font-size="13.5" fill="#90dc00" text-anchor="middle" dominant-baseline="central" transform="translate(550.0 908.0) rotate(-60.0)" stroke="#90dc00" stroke-width="0.20">12</text>
<text x="0" y="0" font-size="13.5" fill="#90dc00" text-anchor="middle" dominant-baseline="central" transform="translate(625.0 909.0) rotate(-65.0)" stroke="#90dc00" stroke-width="0.20">20</text><path d="M815.50 79.30 L775.19 84.94 M798.37 81.70 L794.67 76.92 M815.50 124.50 L775.04 128.95 M815.50 165.50 L775.09 170.35 M791.57 168.37 L784.36 158.66 M794.95 167.97 L787.74 158.26 M798.32 167.56 L791.11 157.85 M801.70 167.16 L794.49 157.45 M805.07 166.75 L801.47 161.90 M815.50 203.70 L775.09 208.55 M791.57 206.57 L784.36 196.86 M794.95 206.17 L787.74 196.46 M798.32 205.76 L791.11 196.05 M801.70 205.36 L794.49 195.65 M815.50 238.60 L775.19 244.24 M791.63 241.94 L784.23 232.37 M795.00 241.47 L787.60 231.90 M798.37 241.00 L790.97 231.43 M801.73 240.53 L798.04 235.74 M815.50 274.30 L775.38 281.12 M791.74 278.34 L784.07 268.99 M795.09 277.77 L787.42 268.42 M798.44 277.20 L790.77 267.85 M815.50 318.20 L775.31 324.63 M791.70 322.01 L784.12 312.59 M795.06 321.47 L787.48 312.05 M798.42 320.93 L794.63 316.22 M815.50 367.90 L775.25 373.94 M791.67 371.48 L784.18 361.98 M795.03 370.97 L791.28 366.22 M815.50 418.30 L775.22 424.14 M791.65 421.76 L784.20 412.23 M815.50 469.20 L774.96 472.85 M791.50 471.36 L788.04 466.40 M815.50 514.00 L774.90 516.84 M784.68 516.16 L777.96 506.10 M788.07 515.92 L781.35 505.86 M791.46 515.68 L784.74 505.63 M794.85 515.45 L788.13 505.39 M798.24 515.21 L794.88 510.18 M815.50 552.30 L774.80 552.30 M784.60 552.30 L778.60 541.80 M788.00 552.30 L782.00 541.80 M791.40 552.30 L785.40 541.80 M815.50 582.30 L774.80 582.30 M784.60 582.30 L778.60 571.80 M788.00 582.30 L785.00 577.05 M815.50 607.50 L774.85 605.47 M784.64 605.96 L781.90 600.56 M815.50 627.50 L780.90 622.23 M780.90 622.23 L778.96 610.41 M784.36 622.76 L782.42 610.93 M787.82 623.29 L785.88 611.46 M791.28 623.81 L789.34 611.99 M794.74 624.34 L793.77 618.43 M815.50 643.10 L781.32 635.58 M781.32 635.58 L780.16 623.65 M784.74 636.33 L783.57 624.40 M788.15 637.08 L786.99 625.15 M791.57 637.83 L790.41 625.90 M815.50 657.50 L781.49 649.23 M781.49 649.23 L780.59 637.28 M784.89 650.06 L783.99 638.10 M788.29 650.88 L787.39 638.93 M791.69 651.71 L790.79 639.76 M815.50 671.20 L782.28 660.19 M782.28 660.19 L782.35 648.21 M785.60 661.30 L785.67 649.31 M788.92 662.40 L788.99 650.41 M792.24 663.50 L792.28 657.50 M815.50 683.40 L783.07 670.23 M783.07 670.23 L783.94 658.27 M786.32 671.54 L787.18 659.59 M789.56 672.86 L790.42 660.91 M792.80 674.18 L793.23 668.20 M815.50 695.70 L784.29 679.86 M784.29 679.86 L786.15 668.02 M787.41 681.44 L789.27 669.60 M790.53 683.03 L792.39 671.19 M793.65 684.61 L794.58 678.69 M815.50 705.80 L783.95 690.64 M783.95 690.64 L785.56 678.76 M787.11 692.16 L788.71 680.28 M790.26 693.67 L791.87 681.79 M793.42 695.19 L794.22 689.25 M815.50 716.30 L784.77 699.54 M784.77 699.54 L786.99 687.76 M787.85 701.21 L790.06 689.43 M790.92 702.89 L793.13 691.11 M793.99 704.57 L795.10 698.68 M815.50 726.10 L784.25 710.34 M784.25 710.34 L786.08 698.49 M787.38 711.91 L789.21 700.07 M790.50 713.49 L792.33 701.64 M793.63 715.06 L794.54 709.14 M815.50 736.60 L784.55 720.26 M784.55 720.26 L786.60 708.45 M787.64 721.89 L789.70 710.08 M790.74 723.53 L792.79 711.72 M793.83 725.16 L794.86 719.26 M815.50 745.40 L784.18 729.77 M784.18 729.77 L785.96 717.92 M787.32 731.33 L789.10 719.48 M790.45 732.90 L792.23 721.04 M793.58 734.46 L794.47 728.53 M815.50 754.50 L783.92 739.41 M783.92 739.41 L785.50 727.52 M787.08 740.92 L788.66 729.03 M790.24 742.42 L791.82 730.54 M815.50 764.30 L783.44 750.27 M783.44 750.27 L784.62 738.34 M786.64 751.67 L787.82 739.74 M789.85 753.07 L791.03 741.15 M815.50 773.40 L782.64 761.36 M782.64 761.36 L783.09 749.38 M785.92 762.56 L786.37 750.58 M789.21 763.76 L789.66 751.79 M815.50 781.80 L781.93 771.91 M781.93 771.91 L781.60 759.93 M785.28 772.90 L784.96 760.92 M788.64 773.89 L788.31 761.90 M815.50 790.20 L781.46 782.06 M781.46 782.06 L780.51 770.11 M784.86 782.87 L783.92 770.93 M788.27 783.69 L787.32 771.74 M815.50 797.50 L781.25 790.28 M781.25 790.28 L779.99 778.36 M784.68 791.00 L783.41 779.08 M788.10 791.72 L786.84 779.80 M815.50 805.20 L781.35 797.52 M781.35 797.52 L780.24 785.59 M784.77 798.29 L783.66 786.36 M788.18 799.06 L787.07 787.12 M815.50 813.30 L781.31 805.80 M781.31 805.80 L780.14 793.88 M784.73 806.55 L783.56 794.63 M788.15 807.30 L786.98 795.38 M815.50 821.30 L781.17 814.48 M781.17 814.48 L779.76 802.58 M784.60 815.16 L783.20 803.26 M788.04 815.84 L786.63 803.94 M815.50 828.30 L780.99 822.46 M780.99 822.46 L779.25 810.60 M784.44 823.04 L782.70 811.19 M787.89 823.63 L786.15 811.77 M815.50 836.00 L780.89 830.81 M780.89 830.81 L778.92 818.99 M784.35 831.33 L782.38 819.50 M787.81 831.85 L785.84 820.02 M815.50 843.40 L780.68 839.89 M780.68 839.89 L778.14 828.18 M784.16 840.24 L781.62 828.53 M787.64 840.60 L785.10 828.88 M815.50 849.30 L780.71 845.45 M780.71 845.45 L778.29 833.71 M784.19 845.84 L781.77 834.10 M787.67 846.22 L785.25 834.48 M815.50 853.90 L780.75 849.74 M780.75 849.74 L778.43 837.98 M784.22 850.15 L781.91 838.39 M787.70 850.57 L786.54 844.69 M815.50 858.10 L780.61 855.37 M780.61 855.37 L777.81 843.71 M784.10 855.64 L781.30 843.99 M787.59 855.91 L786.19 850.09 M815.50 861.60 L780.52 860.55 M780.52 860.55 L777.16 849.04 M784.01 860.66 L780.66 849.15 M787.51 860.76 L785.83 855.01 M815.50 863.30 L780.52 862.25 M780.52 862.25 L777.16 850.74 M784.01 862.36 L780.66 850.85" fill="none" stroke="#000" stroke-width="0.95" shape-rendering="crispEdges"/><path d="M775.19 84.94 L773.83 75.24 L781.93 84.00 Z M781.93 84.00 L780.57 74.29 L788.66 83.06 Z M788.66 83.06 L787.30 73.35 L795.40 82.11 Z M775.04 128.95 L773.97 119.21 L781.80 128.21 Z M781.80 128.21 L780.73 118.47 L788.56 127.46 Z M788.56 127.46 L787.49 117.72 L795.32 126.72 Z M775.09 170.35 L773.92 160.62 L781.84 169.54 Z M781.84 169.54 L780.67 159.81 L788.59 168.73 Z M775.09 208.55 L773.92 198.82 L781.84 207.74 Z M781.84 207.74 L780.67 198.01 L788.59 206.93 Z M775.19 244.24 L773.83 234.54 L781.93 243.30 Z M781.93 243.30 L780.57 233.59 L788.66 242.36 Z M775.38 281.12 L773.73 271.46 L782.08 279.98 Z M782.08 279.98 L780.44 270.32 L788.78 278.84 Z M775.31 324.63 L773.76 314.95 L782.03 323.56 Z M782.03 323.56 L780.48 313.88 L788.74 322.48 Z M775.25 373.94 L773.80 364.25 L781.98 372.93 Z M781.98 372.93 L780.52 363.24 L788.70 371.92 Z M775.22 424.14 L773.81 414.44 L781.95 423.16 Z M781.95 423.16 L780.54 413.47 L788.68 422.19 Z M774.96 472.85 L774.09 463.09 L781.74 472.24 Z M781.74 472.24 L780.86 462.48 L788.51 471.63 Z M774.90 516.84 L774.22 507.07 L781.68 516.37 Z M774.80 552.30 L774.80 542.50 L781.60 552.30 Z M774.80 582.30 L774.80 572.50 L781.60 582.30 Z M774.85 605.47 L775.34 595.68 L781.64 605.81 Z" fill="#000" stroke="#000" stroke-width="0.8" shape-rendering="crispEdges"/><line x1="70" y1="78" x2="70" y2="100" stroke="#00b400" stroke-width="2"/></svg></body></html>
